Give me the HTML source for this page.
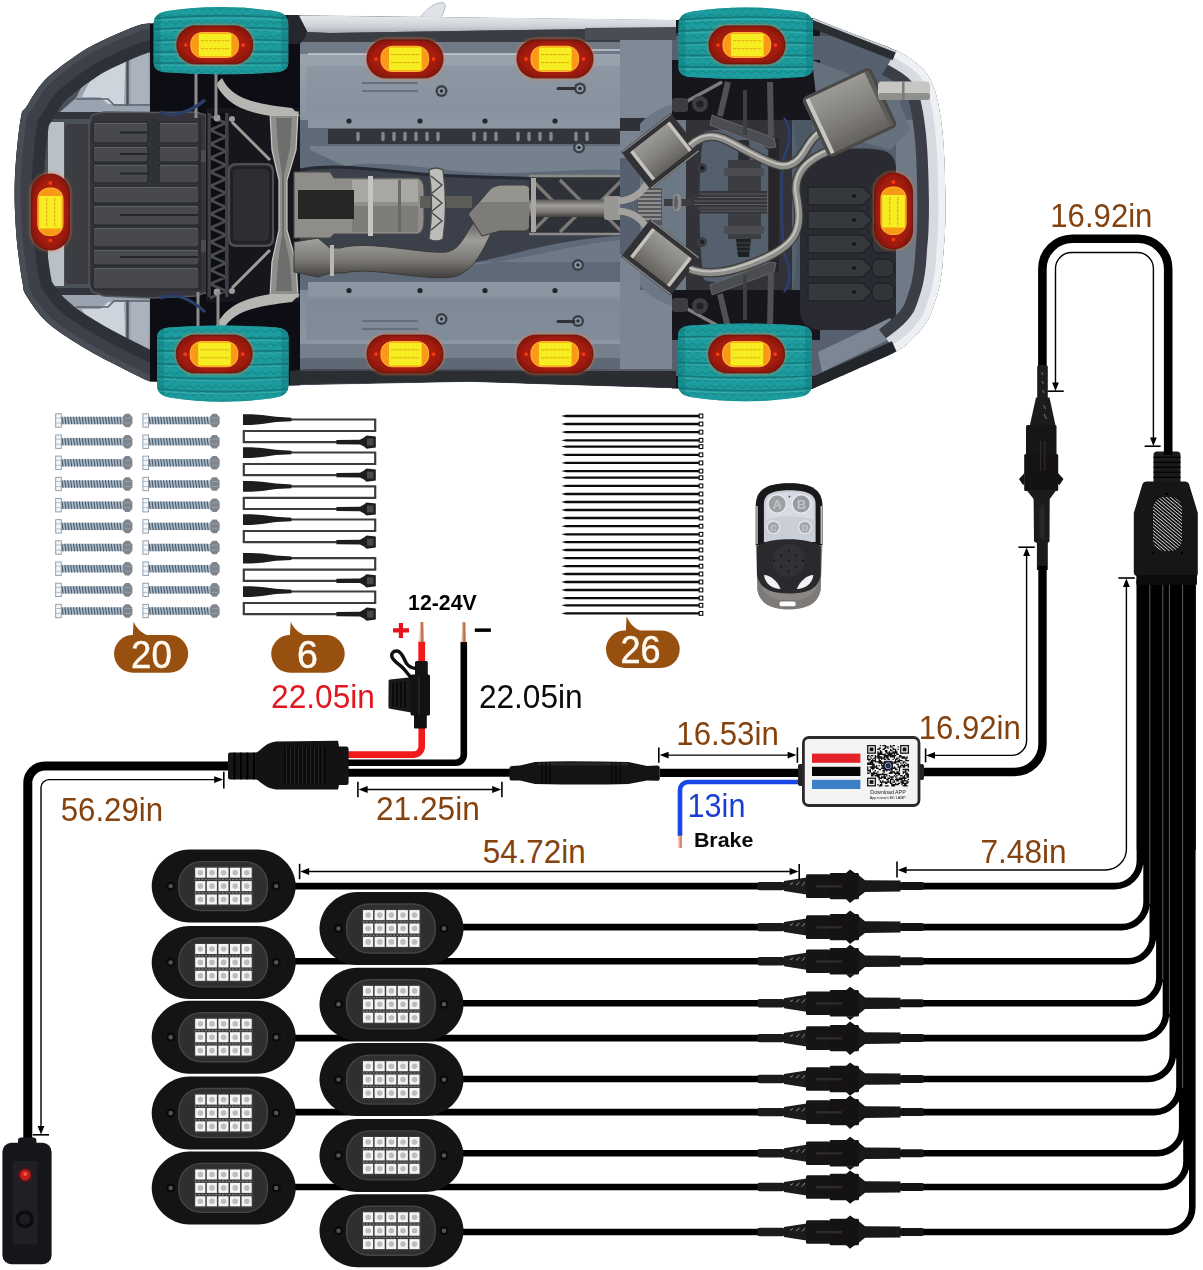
<!DOCTYPE html>
<html><head><meta charset="utf-8"><title>Wiring diagram</title>
<style>
html,body{margin:0;padding:0;background:#fff;}
body{width:1203px;height:1270px;overflow:hidden;}
svg{display:block;font-family:"Liberation Sans",sans-serif;}
</style></head><body>
<svg width="1203" height="1270" viewBox="0 0 1203 1270">
<defs>
<radialGradient id="lgR" cx="50%" cy="50%" r="60%">
 <stop offset="0" stop-color="#e0300f"/><stop offset="0.45" stop-color="#b9200c"/><stop offset="0.8" stop-color="#96190b"/><stop offset="1" stop-color="#82150a"/>
</radialGradient>
<filter id="glow" x="-30%" y="-30%" width="160%" height="160%"><feGaussianBlur stdDeviation="3"/></filter>
<filter id="b1" x="-10%" y="-10%" width="120%" height="120%"><feGaussianBlur stdDeviation="1"/></filter>
<filter id="b2" x="-20%" y="-20%" width="140%" height="140%"><feGaussianBlur stdDeviation="2"/></filter>
<filter id="b4" x="-20%" y="-20%" width="140%" height="140%"><feGaussianBlur stdDeviation="4"/></filter>
<filter id="b05" x="-10%" y="-10%" width="120%" height="120%"><feGaussianBlur stdDeviation="0.5"/></filter>
<filter id="carblur" x="0" y="0" width="1203" height="420" filterUnits="userSpaceOnUse"><feGaussianBlur stdDeviation="0.6"/></filter>

<g id="light">
 <rect x="-40" y="-21" width="80" height="42" rx="21" fill="#ff7a40" opacity="0.4" filter="url(#b1)"/>
 <rect x="-38" y="-19" width="76" height="38" rx="19" fill="url(#lgR)"/>
 <rect x="-38" y="-19" width="76" height="38" rx="19" fill="none" stroke="#5a1008" stroke-width="1.2" opacity="0.7"/>
 <circle cx="-29" cy="0.2" r="1.9" fill="#f03a14"/><circle cx="28.5" cy="0.2" r="1.9" fill="#f03a14"/>
 <rect x="-24.5" y="-13" width="48.6" height="26.2" rx="12" fill="#ffb43a"/>
 <rect x="-23.5" y="-12" width="46.6" height="24.2" rx="11" fill="#f99a12"/>
 <rect x="-16" y="-11.2" width="32.6" height="22.6" rx="1" fill="#f6ee20"/>
 <path d="M-14 -4.2H15M-14 3.8H15" stroke="#e2a212" stroke-width="0.9" stroke-dasharray="3.2 0.9" fill="none"/>
</g>

<g id="pod">
 <path d="M-34 -36.5 H34 C55 -36.5 72 -19 72 0 C72 19 55 36.5 34 36.5 H-34 C-55 36.5 -72 19 -72 0 C-72 -19 -55 -36.5 -34 -36.5Z" fill="#141414"/>
 <rect x="-45.6" y="-25.2" width="90" height="50.4" rx="23" fill="#454545"/>
 <rect x="-44.2" y="-23.8" width="87.2" height="47.6" rx="21.6" fill="#2f2f2f"/>
 <rect x="-29.5" y="-19.6" width="59" height="39.4" fill="#3c3c3c"/><path d="M-29 -6.6h58M-29 6.8h58" stroke="#7a7a7a" stroke-width="1.2" stroke-dasharray="2 1.4"/>
 <rect x="-28.5" y="-18.4" width="10.1" height="10" fill="#f4f4f4"/><circle cx="-23.3" cy="-13.4" r="2.8" fill="#bdbdbd"/><rect x="-16.9" y="-18.4" width="10.1" height="10" fill="#f4f4f4"/><circle cx="-11.7" cy="-13.4" r="2.8" fill="#bdbdbd"/><rect x="-5.3" y="-18.4" width="10.1" height="10" fill="#f4f4f4"/><circle cx="-0.1" cy="-13.4" r="2.8" fill="#bdbdbd"/><rect x="6.3" y="-18.4" width="10.1" height="10" fill="#f4f4f4"/><circle cx="11.5" cy="-13.4" r="2.8" fill="#bdbdbd"/><rect x="17.9" y="-18.4" width="10.1" height="10" fill="#f4f4f4"/><circle cx="23.1" cy="-13.4" r="2.8" fill="#bdbdbd"/><rect x="-28.5" y="-5.0" width="10.1" height="10" fill="#f4f4f4"/><circle cx="-23.3" cy="0.0" r="2.8" fill="#bdbdbd"/><rect x="-16.9" y="-5.0" width="10.1" height="10" fill="#f4f4f4"/><circle cx="-11.7" cy="0.0" r="2.8" fill="#bdbdbd"/><rect x="-5.3" y="-5.0" width="10.1" height="10" fill="#f4f4f4"/><circle cx="-0.1" cy="0.0" r="2.8" fill="#bdbdbd"/><rect x="6.3" y="-5.0" width="10.1" height="10" fill="#f4f4f4"/><circle cx="11.5" cy="0.0" r="2.8" fill="#bdbdbd"/><rect x="17.9" y="-5.0" width="10.1" height="10" fill="#f4f4f4"/><circle cx="23.1" cy="0.0" r="2.8" fill="#bdbdbd"/><rect x="-28.5" y="8.4" width="10.1" height="10" fill="#f4f4f4"/><circle cx="-23.3" cy="13.4" r="2.8" fill="#bdbdbd"/><rect x="-16.9" y="8.4" width="10.1" height="10" fill="#f4f4f4"/><circle cx="-11.7" cy="13.4" r="2.8" fill="#bdbdbd"/><rect x="-5.3" y="8.4" width="10.1" height="10" fill="#f4f4f4"/><circle cx="-0.1" cy="13.4" r="2.8" fill="#bdbdbd"/><rect x="6.3" y="8.4" width="10.1" height="10" fill="#f4f4f4"/><circle cx="11.5" cy="13.4" r="2.8" fill="#bdbdbd"/><rect x="17.9" y="8.4" width="10.1" height="10" fill="#f4f4f4"/><circle cx="23.1" cy="13.4" r="2.8" fill="#bdbdbd"/>
 <circle cx="-53" cy="0" r="4.6" fill="#0a0a0a"/><circle cx="-53" cy="0" r="2.2" fill="#555"/>
 <circle cx="52.5" cy="0" r="4.6" fill="#0a0a0a"/><circle cx="52.5" cy="0" r="2.2" fill="#555"/>
</g>

<g id="conn">
 <rect x="757.5" y="-4.2" width="27" height="8.4" rx="2" fill="#1c1a1a"/>
 <path d="M784 -5 L806.5 -8.5 L806.5 8.5 L784 5Z" fill="#1d1a1a"/>
 <path d="M790 -1.5l3 -2M796 -1l3.5 -3M802 -0.5l3 -3.5" stroke="#bbb" stroke-width="0.9" fill="none" opacity="0.8"/>
 <rect x="806" y="-11.8" width="24" height="23.6" rx="1.5" fill="#161414"/>
 <rect x="829.5" y="-13.2" width="29.5" height="26.4" rx="1.5" fill="#141212"/>
 <path d="M846 -13 L850 -16.5 L855 -13Z M846 13 L850 16.8 L855 13Z" fill="#141212"/>
 <rect x="816" y="-1" width="26" height="2.4" fill="#2d2a2a"/>
 <path d="M858.5 -11 L865 -5.8 L900.5 -5.5 L900.5 5.5 L865 5.8 L858.5 11Z" fill="#1a1818"/>
 <rect x="900" y="-4" width="24" height="8" rx="2" fill="#141212"/>
</g>

<g id="screw">
 <rect x="5.5" y="-3.6" width="62" height="7.2" fill="#a9bccb"/>
 <path d="M6.5 -3.8l1.2 7.6" stroke="#4d5a68" stroke-width="1.1"/><path d="M9.4 -3.8l1.2 7.6" stroke="#4d5a68" stroke-width="1.1"/><path d="M12.3 -3.8l1.2 7.6" stroke="#4d5a68" stroke-width="1.1"/><path d="M15.2 -3.8l1.2 7.6" stroke="#4d5a68" stroke-width="1.1"/><path d="M18.1 -3.8l1.2 7.6" stroke="#4d5a68" stroke-width="1.1"/><path d="M21.0 -3.8l1.2 7.6" stroke="#4d5a68" stroke-width="1.1"/><path d="M23.9 -3.8l1.2 7.6" stroke="#4d5a68" stroke-width="1.1"/><path d="M26.8 -3.8l1.2 7.6" stroke="#4d5a68" stroke-width="1.1"/><path d="M29.7 -3.8l1.2 7.6" stroke="#4d5a68" stroke-width="1.1"/><path d="M32.6 -3.8l1.2 7.6" stroke="#4d5a68" stroke-width="1.1"/><path d="M35.5 -3.8l1.2 7.6" stroke="#4d5a68" stroke-width="1.1"/><path d="M38.4 -3.8l1.2 7.6" stroke="#4d5a68" stroke-width="1.1"/><path d="M41.3 -3.8l1.2 7.6" stroke="#4d5a68" stroke-width="1.1"/><path d="M44.2 -3.8l1.2 7.6" stroke="#4d5a68" stroke-width="1.1"/><path d="M47.1 -3.8l1.2 7.6" stroke="#4d5a68" stroke-width="1.1"/><path d="M50.0 -3.8l1.2 7.6" stroke="#4d5a68" stroke-width="1.1"/><path d="M52.9 -3.8l1.2 7.6" stroke="#4d5a68" stroke-width="1.1"/><path d="M55.8 -3.8l1.2 7.6" stroke="#4d5a68" stroke-width="1.1"/><path d="M58.7 -3.8l1.2 7.6" stroke="#4d5a68" stroke-width="1.1"/><path d="M61.6 -3.8l1.2 7.6" stroke="#4d5a68" stroke-width="1.1"/><path d="M64.5 -3.8l1.2 7.6" stroke="#4d5a68" stroke-width="1.1"/>
 <rect x="0.3" y="-6.7" width="5.6" height="13.4" fill="#f4f7fa" stroke="#8a97a5" stroke-width="0.9"/>
 <path d="M0.3 -2.5h5.6M0.3 2.5h5.6" stroke="#9aa6b2" stroke-width="0.7"/>
 <path d="M67.5 -4 L70 -6.8 L74 -6.8 L77 -3.2 L77 3.2 L74 6.8 L70 6.8 L67.5 4Z" fill="#7f858c"/>
 <path d="M69 -2.5h7M69 2.5h7" stroke="#9ea5ad" stroke-width="0.8"/>
</g>
</defs>
<rect width="1203" height="1270" fill="#fff"/>
<g id="car" filter="url(#carblur)">
<path d="M418 20 C424 12 432 3 442 2.5 C447 3 446 8 440 20Z" fill="#dfe2e6" stroke="#aab0b8" stroke-width="0.8"/>
<defs><clipPath id="carclip"><path d="M150 23.5 C148.0 23.8 145.0 23.1 138.0 25.5 C131.0 27.9 117.7 33.4 108.0 38.0 C98.3 42.6 90.5 46.0 80.0 53.0 C69.5 60.0 53.8 71.2 45.0 80.0 C36.2 88.8 31.0 99.8 27.0 106.0 C23.0 112.2 22.8 108.0 21.0 117.0 C19.2 126.0 17.1 147.0 16.0 160.0 C14.9 173.0 14.6 183.3 14.6 195.0 C14.6 206.7 15.3 219.8 16.0 230.0 C16.7 240.2 17.5 247.2 18.6 256.0 C19.7 264.8 21.3 276.3 22.6 283.0 C23.9 289.7 22.4 289.3 26.6 296.0 C30.8 302.7 37.8 314.0 48.0 323.0 C58.2 332.0 73.0 341.2 88.0 350.0 C103.0 358.8 127.7 370.8 138.0 376.0 C148.3 381.2 148.0 380.6 150.0 381.5 L290 385.5 L470 382 L676 388.5 L812 389 C819.2 385.8 840.9 376.3 855.0 370.0 C869.1 363.7 886.4 356.9 896.4 351.3 C906.4 345.7 909.4 341.6 914.7 336.4 C920.0 331.1 924.7 325.4 928.0 319.8 C931.3 314.2 932.8 308.3 934.6 303.0 C936.4 297.7 937.8 293.5 939.0 288.0 C940.2 282.5 941.3 276.0 942.0 270.0 C942.7 264.0 942.9 258.7 943.4 252.0 C943.9 245.3 944.7 238.8 945.0 230.0 C945.3 221.2 945.6 212.9 945.4 199.5 C945.2 186.1 944.6 163.4 943.8 149.6 C943.0 135.8 941.9 126.4 940.4 116.4 C938.9 106.4 937.0 97.0 934.6 89.8 C932.2 82.6 929.9 78.0 926.3 73.2 C922.7 68.4 918.0 64.5 913.0 60.7 C908.0 57.0 906.1 55.1 896.4 50.7 C886.7 46.3 868.9 40.0 855.0 34.5 C841.1 29.1 820.0 20.8 813.0 18.0 L680 20 L290 15 Z"/></clipPath><linearGradient id="floorT" x1="0" y1="0" x2="0" y2="1"><stop offset="0" stop-color="#9fa8b2"/><stop offset="1" stop-color="#8893a0"/></linearGradient><linearGradient id="floorB" x1="0" y1="0" x2="0" y2="1"><stop offset="0" stop-color="#808c9a"/><stop offset="1" stop-color="#929ca8"/></linearGradient><linearGradient id="metal" x1="0" y1="0" x2="0" y2="1"><stop offset="0" stop-color="#5a5856"/><stop offset="0.35" stop-color="#a09e9a"/><stop offset="0.7" stop-color="#7a7874"/><stop offset="1" stop-color="#403e3c"/></linearGradient><linearGradient id="metalH" x1="0" y1="0" x2="1" y2="0"><stop offset="0" stop-color="#6a6866"/><stop offset="0.35" stop-color="#b4b2ae"/><stop offset="0.7" stop-color="#8a8884"/><stop offset="1" stop-color="#4c4a48"/></linearGradient><linearGradient id="muff" x1="0" y1="0" x2="0" y2="1"><stop offset="0" stop-color="#9c9a96"/><stop offset="0.5" stop-color="#84827e"/><stop offset="1" stop-color="#64625e"/></linearGradient><linearGradient id="sill" x1="0" y1="0" x2="0" y2="1"><stop offset="0" stop-color="#e6e8ec"/><stop offset="0.6" stop-color="#cfd3d9"/><stop offset="1" stop-color="#a9aeb6"/></linearGradient><filter id="noise" x="0" y="0" width="100%" height="100%"><feTurbulence type="fractalNoise" baseFrequency="0.9" numOctaves="2" seed="3"/><feColorMatrix type="matrix" values="0 0 0 0 0.5  0 0 0 0 0.5  0 0 0 0 0.5  0 0 0 -1.6 1.1"/></filter><pattern id="tread" width="9" height="7" patternUnits="userSpaceOnUse"><rect width="9" height="7" fill="#1f9c9e"/><path d="M0 0l4.5 3.5l4.5 -3.5" stroke="#168587" stroke-width="1.1" fill="none"/></pattern></defs>
<g clip-path="url(#carclip)">
<path d="M150 23.5 C148.0 23.8 145.0 23.1 138.0 25.5 C131.0 27.9 117.7 33.4 108.0 38.0 C98.3 42.6 90.5 46.0 80.0 53.0 C69.5 60.0 53.8 71.2 45.0 80.0 C36.2 88.8 31.0 99.8 27.0 106.0 C23.0 112.2 22.8 108.0 21.0 117.0 C19.2 126.0 17.1 147.0 16.0 160.0 C14.9 173.0 14.6 183.3 14.6 195.0 C14.6 206.7 15.3 219.8 16.0 230.0 C16.7 240.2 17.5 247.2 18.6 256.0 C19.7 264.8 21.3 276.3 22.6 283.0 C23.9 289.7 22.4 289.3 26.6 296.0 C30.8 302.7 37.8 314.0 48.0 323.0 C58.2 332.0 73.0 341.2 88.0 350.0 C103.0 358.8 127.7 370.8 138.0 376.0 C148.3 381.2 148.0 380.6 150.0 381.5 L290 385.5 L470 382 L676 388.5 L812 389 C819.2 385.8 840.9 376.3 855.0 370.0 C869.1 363.7 886.4 356.9 896.4 351.3 C906.4 345.7 909.4 341.6 914.7 336.4 C920.0 331.1 924.7 325.4 928.0 319.8 C931.3 314.2 932.8 308.3 934.6 303.0 C936.4 297.7 937.8 293.5 939.0 288.0 C940.2 282.5 941.3 276.0 942.0 270.0 C942.7 264.0 942.9 258.7 943.4 252.0 C943.9 245.3 944.7 238.8 945.0 230.0 C945.3 221.2 945.6 212.9 945.4 199.5 C945.2 186.1 944.6 163.4 943.8 149.6 C943.0 135.8 941.9 126.4 940.4 116.4 C938.9 106.4 937.0 97.0 934.6 89.8 C932.2 82.6 929.9 78.0 926.3 73.2 C922.7 68.4 918.0 64.5 913.0 60.7 C908.0 57.0 906.1 55.1 896.4 50.7 C886.7 46.3 868.9 40.0 855.0 34.5 C841.1 29.1 820.0 20.8 813.0 18.0 L680 20 L290 15 Z" fill="#4a515b"/>
<path d="M150 40 L128 41 C106 52 88 72 76 98 L52 119 L150 114Z" fill="#9aa4b0"/>
<path d="M150 366 L128 365 C106 354 88 334 76 308 L52 287 L150 292Z" fill="#9aa4b0"/>
<path d="M126 43 C108 54 92 74 82 97 L100 97 L108 104 L124 104Z" fill="#cdd4dc"/>
<path d="M126 363 C108 352 92 332 82 309 L100 309 L108 302 L124 302Z" fill="#cdd4dc"/>
<path d="M131 42 L148 42 L149 104 L131 104Z" fill="#a9b2bd"/><path d="M131 364 L148 364 L149 302 L131 302Z" fill="#a9b2bd"/>
<path d="M127.5 42 V106M127.5 364 V300" stroke="#4a5059" stroke-width="2.4" fill="none"/>
<path d="M76 99 H108 L114 105 H150" stroke="#5a626c" stroke-width="1.6" fill="none"/><path d="M76 307 H108 L114 301 H150" stroke="#5a626c" stroke-width="1.6" fill="none"/>
<rect x="40" y="112" width="52" height="182" fill="#4c5159"/>
<rect x="46" y="112" width="106" height="7" fill="#33363c"/><rect x="46" y="288" width="106" height="7" fill="#33363c"/>
<rect x="48" y="122" width="16" height="164" fill="#b9c0c8"/>
<rect x="65" y="124" width="24" height="160" rx="4" fill="#3a3d43"/>
<defs><clipPath id="frontclip"><rect x="0" y="0" width="152" height="410"/></clipPath><clipPath id="rearclip"><rect x="812" y="0" width="150" height="410"/></clipPath></defs>
<path d="M150 23.5 C148.0 23.8 145.0 23.1 138.0 25.5 C131.0 27.9 117.7 33.4 108.0 38.0 C98.3 42.6 90.5 46.0 80.0 53.0 C69.5 60.0 53.8 71.2 45.0 80.0 C36.2 88.8 31.0 99.8 27.0 106.0 C23.0 112.2 22.8 108.0 21.0 117.0 C19.2 126.0 17.1 147.0 16.0 160.0 C14.9 173.0 14.6 183.3 14.6 195.0 C14.6 206.7 15.3 219.8 16.0 230.0 C16.7 240.2 17.5 247.2 18.6 256.0 C19.7 264.8 21.3 276.3 22.6 283.0 C23.9 289.7 22.4 289.3 26.6 296.0 C30.8 302.7 37.8 314.0 48.0 323.0 C58.2 332.0 73.0 341.2 88.0 350.0 C103.0 358.8 127.7 370.8 138.0 376.0 C148.3 381.2 148.0 380.6 150.0 381.5 " fill="none" stroke="#2f3238" stroke-width="58" clip-path="url(#frontclip)"/>
<path d="M150 23.5 C148.0 23.8 145.0 23.1 138.0 25.5 C131.0 27.9 117.7 33.4 108.0 38.0 C98.3 42.6 90.5 46.0 80.0 53.0 C69.5 60.0 53.8 71.2 45.0 80.0 C36.2 88.8 31.0 99.8 27.0 106.0 C23.0 112.2 22.8 108.0 21.0 117.0 C19.2 126.0 17.1 147.0 16.0 160.0 C14.9 173.0 14.6 183.3 14.6 195.0 C14.6 206.7 15.3 219.8 16.0 230.0 C16.7 240.2 17.5 247.2 18.6 256.0 C19.7 264.8 21.3 276.3 22.6 283.0 C23.9 289.7 22.4 289.3 26.6 296.0 C30.8 302.7 37.8 314.0 48.0 323.0 C58.2 332.0 73.0 341.2 88.0 350.0 C103.0 358.8 127.7 370.8 138.0 376.0 C148.3 381.2 148.0 380.6 150.0 381.5 " fill="none" stroke="#3c4048" stroke-width="34" clip-path="url(#frontclip)"/>
<path d="M150 23.5 C148.0 23.8 145.0 23.1 138.0 25.5 C131.0 27.9 117.7 33.4 108.0 38.0 C98.3 42.6 90.5 46.0 80.0 53.0 C69.5 60.0 53.8 71.2 45.0 80.0 C36.2 88.8 31.0 99.8 27.0 106.0 C23.0 112.2 22.8 108.0 21.0 117.0 C19.2 126.0 17.1 147.0 16.0 160.0 C14.9 173.0 14.6 183.3 14.6 195.0 C14.6 206.7 15.3 219.8 16.0 230.0 C16.7 240.2 17.5 247.2 18.6 256.0 C19.7 264.8 21.3 276.3 22.6 283.0 C23.9 289.7 22.4 289.3 26.6 296.0 C30.8 302.7 37.8 314.0 48.0 323.0 C58.2 332.0 73.0 341.2 88.0 350.0 C103.0 358.8 127.7 370.8 138.0 376.0 C148.3 381.2 148.0 380.6 150.0 381.5 " fill="none" stroke="#4d525b" stroke-width="12" clip-path="url(#frontclip)" opacity="0.7"/>
<path d="M150 23.5 C148.0 23.8 145.0 23.1 138.0 25.5 C131.0 27.9 117.7 33.4 108.0 38.0 C98.3 42.6 90.5 46.0 80.0 53.0 C69.5 60.0 53.8 71.2 45.0 80.0 C36.2 88.8 31.0 99.8 27.0 106.0 C23.0 112.2 22.8 108.0 21.0 117.0 C19.2 126.0 17.1 147.0 16.0 160.0 C14.9 173.0 14.6 183.3 14.6 195.0 C14.6 206.7 15.3 219.8 16.0 230.0 C16.7 240.2 17.5 247.2 18.6 256.0 C19.7 264.8 21.3 276.3 22.6 283.0 C23.9 289.7 22.4 289.3 26.6 296.0 C30.8 302.7 37.8 314.0 48.0 323.0 C58.2 332.0 73.0 341.2 88.0 350.0 C103.0 358.8 127.7 370.8 138.0 376.0 C148.3 381.2 148.0 380.6 150.0 381.5 " fill="none" stroke="#23262b" stroke-width="2" clip-path="url(#frontclip)" transform="translate(16,0)" opacity="0"/>
<rect x="150" y="0" width="150" height="116" fill="#101113"/>
<rect x="150" y="294" width="150" height="110" fill="#101113"/>
<rect x="672" y="0" width="148" height="125" fill="#121316"/>
<rect x="672" y="285" width="148" height="120" fill="#121316"/>
<path d="M92 115 L104 112 L150 112.5 L196 112 L206 115 L207.5 292 L196 296 L150 298 L104 296 L92 292 L89 284 L89 124Z" fill="#34363a"/>
<path d="M92 115 L104 112 L150 112.5 L196 112 L206 115 L207.5 292 L196 296 L150 298 L104 296 L92 292 L89 284 L89 124Z" fill="none" stroke="#54575c" stroke-width="1.4"/>
<rect x="93" y="122" width="55" height="21" rx="2.5" fill="#46484d" stroke="#222427" stroke-width="1.1"/>
<rect x="159" y="122" width="40" height="21" rx="2.5" fill="#46484d" stroke="#222427" stroke-width="1.1"/>
<path d="M120 132.5 H148" stroke="#26282b" stroke-width="2"/>
<path d="M94 123.5 H147M160 123.5 H198" stroke="#5d6065" stroke-width="1"/>
<rect x="93" y="146" width="55" height="16" rx="2.5" fill="#46484d" stroke="#222427" stroke-width="1.1"/>
<rect x="159" y="146" width="40" height="16" rx="2.5" fill="#46484d" stroke="#222427" stroke-width="1.1"/>
<path d="M120 154.0 H148" stroke="#26282b" stroke-width="2"/>
<path d="M94 147.5 H147M160 147.5 H198" stroke="#5d6065" stroke-width="1"/>
<rect x="93" y="164" width="55" height="19" rx="2.5" fill="#46484d" stroke="#222427" stroke-width="1.1"/>
<rect x="159" y="164" width="40" height="19" rx="2.5" fill="#46484d" stroke="#222427" stroke-width="1.1"/>
<path d="M120 173.5 H148" stroke="#26282b" stroke-width="2"/>
<path d="M94 165.5 H147M160 165.5 H198" stroke="#5d6065" stroke-width="1"/>
<rect x="93" y="186" width="106" height="17" rx="2.5" fill="#46484d" stroke="#222427" stroke-width="1.1"/>
<path d="M94 187.5 H198" stroke="#5d6065" stroke-width="1"/>
<rect x="93" y="205" width="106" height="20" rx="2.5" fill="#46484d" stroke="#222427" stroke-width="1.1"/>
<path d="M120 215.0 H198" stroke="#26282b" stroke-width="2"/>
<path d="M94 206.5 H198" stroke="#5d6065" stroke-width="1"/>
<rect x="93" y="227" width="106" height="20" rx="2.5" fill="#46484d" stroke="#222427" stroke-width="1.1"/>
<path d="M94 228.5 H198" stroke="#5d6065" stroke-width="1"/>
<rect x="93" y="249" width="106" height="16" rx="2.5" fill="#46484d" stroke="#222427" stroke-width="1.1"/>
<path d="M120 257.0 H198" stroke="#26282b" stroke-width="2"/>
<path d="M94 250.5 H198" stroke="#5d6065" stroke-width="1"/>
<rect x="93" y="267" width="106" height="22" rx="2.5" fill="#46484d" stroke="#222427" stroke-width="1.1"/>
<path d="M94 268.5 H198" stroke="#5d6065" stroke-width="1"/>
<rect x="149.5" y="118" width="8" height="68" fill="#2f3135"/>
<path d="M200 118 V290" stroke="#2a2c2f" stroke-width="2"/>
<rect x="201" y="150" width="6" height="12" fill="#4a4c51"/><rect x="201" y="240" width="6" height="12" fill="#4a4c51"/>
<rect x="206" y="108" width="96" height="194" fill="#17181a"/>
<rect x="207.5" y="113" width="21" height="184" fill="#0f1012"/>
<path d="M210 116L226 123L210 130M210 130L226 137L210 144M210 144L226 151L210 158M210 158L226 165L210 172M210 172L226 179L210 186M210 186L226 193L210 200M210 200L226 207L210 214M210 214L226 221L210 228M210 228L226 235L210 242M210 242L226 249L210 256M210 256L226 263L210 270M210 270L226 277L210 284M210 284L226 291L210 298" stroke="#4a4c51" stroke-width="2.6" fill="none"/>
<rect x="207.5" y="113" width="3.4" height="184" fill="#3d3f44"/><rect x="225" y="113" width="3.6" height="184" fill="#3d3f44"/>
<circle cx="217" cy="118" r="3.4" fill="#9a9a98"/><circle cx="217" cy="292" r="3.4" fill="#9a9a98"/><circle cx="232" cy="119" r="3" fill="#9a9a98"/><circle cx="232" cy="291" r="3" fill="#9a9a98"/>
<rect x="228" y="163" width="46" height="84" rx="7" fill="#4b4d52"/><rect x="230" y="165.5" width="42" height="79" rx="6" fill="#232325"/><rect x="233" y="169" width="36" height="72" rx="5" fill="#2f2f32"/>
<path d="M270 112 H298 L296 150 L287 180 L287 230 L296 262 L298 297 H270 L272 262 L279 230 L279 180 L272 150Z" fill="#8e8e8c" stroke="#c9c9c6" stroke-width="1.2"/>
<path d="M276 118 H292 L290 148 L284 175 L284 235 L290 262 L292 291 H276 L278 262 L282 235 L282 175 L278 148Z" fill="#6e6e6c"/>
<path d="M232 122 L270 160M232 288 L270 250" stroke="#9d9d9a" stroke-width="3" fill="none"/>
<path d="M222 78 C232 100 258 104 292 108 L300 116 L272 116 C244 112 226 104 216 84Z" fill="#b5b5b2"/>
<path d="M222 332 C232 310 258 306 292 302 L300 294 L272 294 C244 298 226 306 216 326Z" fill="#b5b5b2"/>
<path d="M196 72 V118M216 72 V118" stroke="#8c8c8a" stroke-width="3" fill="none"/>
<path d="M198 292 V336M218 292 V336" stroke="#8c8c8a" stroke-width="3" fill="none"/>
<path d="M160 112 C175 118 190 112 205 100" stroke="#2c3f6a" stroke-width="3" fill="none"/>
<path d="M160 298 C175 292 190 298 205 312" stroke="#2c3f6a" stroke-width="3" fill="none"/>
<rect x="300" y="36" width="372" height="84" fill="url(#floorT)"/>
<rect x="300" y="290" width="372" height="84" fill="url(#floorB)"/>
<rect x="300" y="120" width="320" height="170" fill="#5f6a78"/>
<rect x="290" y="33" width="390" height="9" fill="#3a3e45"/>
<rect x="300" y="42" width="372" height="12" fill="#707a86"/>
<path d="M308 54 H520 L535 50 H672" stroke="#c4cad2" stroke-width="1.6" fill="none"/>
<rect x="306" y="66" width="366" height="46" fill="#87919d" opacity="0.6"/>
<rect x="308" y="114" width="364" height="14" fill="#8b95a1"/>
<rect x="328" y="129" width="292" height="15" fill="#33363b"/>
<path d="M358 133.5v6M383 133.5v6M394 133.5v6M405 133.5v6M416 133.5v6M427 133.5v6M438 133.5v6M474 133.5v6M485 133.5v6M496 133.5v6M518 133.5v6M529 133.5v6M540 133.5v6M551 133.5v6M576 133.5v6M587 133.5v6" stroke="#80868e" stroke-width="3.4" stroke-linecap="round"/>
<path d="M310 146 H620 V170 C560 168 520 176 470 172 C420 168 380 160 345 166 L310 150Z" fill="#76818e"/>
<rect x="308" y="282" width="364" height="15" fill="#8c96a2"/>
<path d="M310 262 H620 V240 C560 246 520 262 460 266 C400 270 350 266 310 270Z" fill="#707b88" opacity="0.9"/>
<rect x="306" y="300" width="366" height="40" fill="#7d8895" opacity="0.7"/>
<path d="M308 354 H520 L535 358 H672" stroke="#b9c0c9" stroke-width="1.6" fill="none"/>
<rect x="300" y="344" width="372" height="14" fill="#76808c"/>
<rect x="300" y="358" width="372" height="12" fill="#5f6874"/>
<circle cx="349" cy="121" r="2.6" fill="#23262b"/>
<circle cx="420" cy="121" r="2.6" fill="#23262b"/>
<circle cx="485" cy="121" r="2.6" fill="#23262b"/>
<circle cx="555" cy="121" r="2.6" fill="#23262b"/>
<circle cx="349" cy="290.5" r="2.6" fill="#23262b"/>
<circle cx="420" cy="290.5" r="2.6" fill="#23262b"/>
<circle cx="485" cy="290.5" r="2.6" fill="#23262b"/>
<circle cx="555" cy="290.5" r="2.6" fill="#23262b"/>
<circle cx="625" cy="121" r="2.6" fill="#23262b"/>
<circle cx="625" cy="290.5" r="2.6" fill="#23262b"/>
<circle cx="441.5" cy="91" r="6" fill="#3a3f47"/><circle cx="441.5" cy="91" r="3.6" fill="#8f99a5"/><circle cx="441.5" cy="91" r="1.8" fill="#2c3036"/>
<circle cx="580" cy="88.5" r="6" fill="#3a3f47"/><circle cx="580" cy="88.5" r="3.6" fill="#8f99a5"/><circle cx="580" cy="88.5" r="1.8" fill="#2c3036"/>
<circle cx="579" cy="147.5" r="6" fill="#3a3f47"/><circle cx="579" cy="147.5" r="3.6" fill="#8f99a5"/><circle cx="579" cy="147.5" r="1.8" fill="#2c3036"/>
<circle cx="441.5" cy="319" r="6" fill="#3a3f47"/><circle cx="441.5" cy="319" r="3.6" fill="#8f99a5"/><circle cx="441.5" cy="319" r="1.8" fill="#2c3036"/>
<circle cx="578" cy="321" r="6" fill="#3a3f47"/><circle cx="578" cy="321" r="3.6" fill="#8f99a5"/><circle cx="578" cy="321" r="1.8" fill="#2c3036"/>
<circle cx="578" cy="265" r="6" fill="#3a3f47"/><circle cx="578" cy="265" r="3.6" fill="#8f99a5"/><circle cx="578" cy="265" r="1.8" fill="#2c3036"/>
<path d="M558 88.5h16M558 321.5h16" stroke="#2f3339" stroke-width="3" stroke-linecap="round"/>
<path d="M362 83h56M362 91h56" stroke="#5d6773" stroke-width="1.6"/><path d="M362 321h56M362 329h56" stroke="#5d6773" stroke-width="1.6"/>
<path d="M300 170 C330 164 360 168 420 174 C470 178 520 178 620 180 V236 C540 240 500 262 440 268 C380 272 330 270 300 270Z" fill="#3a414b"/>
<path d="M300 170 C330 164 360 168 420 174 C470 178 520 178 620 180" stroke="#252a31" stroke-width="3" fill="none"/>
<path d="M294 172 H330 L334 178 H418 Q424 180 424 190 V220 Q424 232 418 234 H334 L330 238 H294Z" fill="#8e8d8a" stroke="#4a4947" stroke-width="1"/>
<rect x="352" y="180" width="66" height="22" fill="#a8a7a4"/><rect x="352" y="206" width="66" height="26" fill="#7e7d7a"/>
<rect x="298" y="190" width="56" height="29" fill="#252527"/>
<rect x="368" y="176" width="5" height="60" fill="#c6c5c2"/><rect x="398" y="180" width="3" height="52" fill="#6a6967"/>
<rect x="420" y="196" width="52" height="12" fill="#5c5b59"/>
<path d="M429 170 Q436 166 443 170 Q448 205 443 239 Q436 243 429 239 Q434 205 429 170Z" fill="#bdbdba" stroke="#4b4b49" stroke-width="1.4"/>
<path d="M431 176l11 9l-11 9l11 9l-11 9l11 9l-11 9" stroke="#4a4a48" stroke-width="1.4" fill="none"/>
<path d="M294 242 L318 238 L330 248 L340 248 C370 240 420 254 446 252 C462 250 466 230 476 220 L492 232 C484 246 476 272 452 277 C420 281 372 266 344 273 L330 273 L318 277 L294 272Z" fill="url(#metal)" stroke="#3a3937" stroke-width="1"/>
<rect x="330" y="245" width="4" height="31" fill="#b8b7b4"/>
<path d="M468 214 L490 190 Q494 185.5 504 185.5 H524 Q530 185.5 530 192 V224 Q530 231 524 231 H500 L482 236Z" fill="#7e7c78" stroke="#3a3937" stroke-width="1"/>
<path d="M490 190 Q494 185.5 504 185.5 H524 Q530 185.5 530 192 V202 H480Z" fill="#96948f"/>
<rect x="529" y="176" width="95" height="58" fill="#2f3237"/>
<path d="M529 176 H624 M529 234 H624" stroke="#8c8b88" stroke-width="2.4"/>
<path d="M532 180l26 26l-26 26M560 180l26 26l-26 26M622 180l-26 26l26 26" stroke="#7a7976" stroke-width="3.2" fill="none"/>
<rect x="529" y="199.5" width="95" height="17.5" fill="url(#metal)"/>
<rect x="531" y="178" width="5" height="54" fill="#a8a7a4"/><rect x="604" y="196" width="18" height="24" rx="3" fill="#979692"/>
<rect x="620" y="36" width="330" height="340" fill="#56616e"/>
<path d="M620 36 H672 V120 H640 V150 H620Z" fill="#808a96"/>
<path d="M620 374 H672 V290 H640 V262 H620Z" fill="#7c8692"/>
<rect x="620" y="118" width="52" height="13" fill="#2f3237"/>
<rect x="620" y="132" width="44" height="26" fill="#7a8490"/><rect x="620" y="255" width="44" height="26" fill="#7a8490"/>
<path d="M640 124 C660 100 700 96 720 110 L720 300 C700 314 660 310 640 286Z" fill="#6d7886"/>
<rect x="686" y="80" width="106" height="250" fill="#303338"/>
<path d="M704 132 C724 126 752 132 768 150 L768 262 C752 280 724 286 704 280 C698 250 698 160 704 132Z" fill="#55606e"/>
<rect x="769" y="138" width="10" height="134" fill="#26282c"/>
<path d="M792 120 C800 140 800 270 792 292 L812 292 L812 120Z" fill="#4d5865"/>
<rect x="672" y="60" width="148" height="60" fill="#15161a"/><rect x="672" y="290" width="148" height="50" fill="#15161a"/>
<path d="M800 170 C810 150 850 146 880 150 Q896 152 896 170 V312 Q896 330 880 330 H822 Q800 330 800 310Z" fill="#2a2c30"/>
<path d="M808 187 H862 L872 196 L862 205 H808Z" fill="#35373c" stroke="#1d1e21" stroke-width="1"/>
<circle cx="854" cy="196" r="2" fill="#15161a"/>
<rect x="872" y="187" width="22" height="18" rx="7" fill="#323439" stroke="#1c1d20" stroke-width="1"/>
<path d="M808 211 H862 L872 220 L862 229 H808Z" fill="#35373c" stroke="#1d1e21" stroke-width="1"/>
<circle cx="854" cy="220" r="2" fill="#15161a"/>
<rect x="872" y="211" width="22" height="18" rx="7" fill="#323439" stroke="#1c1d20" stroke-width="1"/>
<path d="M808 235 H862 L872 244 L862 253 H808Z" fill="#35373c" stroke="#1d1e21" stroke-width="1"/>
<circle cx="854" cy="244" r="2" fill="#15161a"/>
<rect x="872" y="235" width="22" height="18" rx="7" fill="#323439" stroke="#1c1d20" stroke-width="1"/>
<path d="M808 259 H862 L872 268 L862 277 H808Z" fill="#35373c" stroke="#1d1e21" stroke-width="1"/>
<circle cx="854" cy="268" r="2" fill="#15161a"/>
<rect x="872" y="259" width="22" height="18" rx="7" fill="#323439" stroke="#1c1d20" stroke-width="1"/>
<path d="M808 283 H862 L872 292 L862 301 H808Z" fill="#35373c" stroke="#1d1e21" stroke-width="1"/>
<circle cx="854" cy="292" r="2" fill="#15161a"/>
<rect x="872" y="283" width="22" height="18" rx="7" fill="#323439" stroke="#1c1d20" stroke-width="1"/>
<path d="M896 120 H930 V300 C925 320 910 336 896 344Z" fill="#6f7986"/>
<path d="M818 352 L890 318 L900 334 L822 372Z" fill="#7d8794"/>
<path d="M812 60 L896 92 L910 130 L890 150 L820 130Z" fill="#66717e"/>
<rect x="728" y="160" width="33" height="32" fill="#3a3c41"/><rect x="724" y="168" width="40" height="8" fill="#4b4d52"/>
<rect x="728" y="212" width="33" height="27" fill="#3a3c41"/><rect x="724" y="226" width="40" height="8" fill="#4b4d52"/>
<path d="M736 239 h15 l-2 18 h-11Z" fill="#1f2023"/><path d="M736 243h15M737 247h13M737 251h13" stroke="#45474c" stroke-width="1"/>
<path d="M738 160 h12 l-1 -20 h-10Z" fill="#2a2c30"/>
<path d="M690 196 L700 191 H767 V213.5 H700 L690 208Z" fill="#34363b"/>
<path d="M700 194h67M698 197.5h69M694 201h73M694 204.5h73M698 208h69M700 211h67" stroke="#5b5d63" stroke-width="1.1"/>
<rect x="664" y="199" width="28" height="7" fill="#3a3c40"/><ellipse cx="677" cy="202.5" rx="4.5" ry="9" fill="#8d8d8b"/><ellipse cx="676" cy="202.5" rx="2" ry="7" fill="#5f5f5d"/>
<circle cx="702" cy="168" r="5" fill="#3b3d42"/><circle cx="702" cy="168" r="2.2" fill="#1f2023"/><circle cx="702" cy="242" r="5" fill="#3b3d42"/><circle cx="702" cy="242" r="2.2" fill="#1f2023"/>
<rect x="637" y="188" width="25" height="37" fill="#55575b"/>
<path d="M638 191h23M638 195h23M638 199h23M638 203h23M638 207h23M638 211h23M638 215h23M638 219h23" stroke="#a2a19e" stroke-width="1.3"/>
<path d="M618 201 C640 200 645 186 656 172" stroke="#a3a29e" stroke-width="7" fill="none"/>
<path d="M618 211 C640 212 645 226 656 240" stroke="#a3a29e" stroke-width="7" fill="none"/>
<g transform="translate(661,151) rotate(-38)"><rect x="-32" y="-24" width="63" height="48" fill="#303236"/><path d="M-31 -23h61M-31 23h61" stroke="#8b8b89" stroke-width="1.2"/><rect x="-25" y="-18" width="50" height="36" rx="3" fill="url(#muff)"/><rect x="-25" y="-18" width="3.5" height="36" fill="#c4c2be"/><rect x="21.5" y="-18" width="3.5" height="36" fill="#c4c2be"/></g>
<g transform="translate(661,257.5) rotate(38)"><rect x="-32" y="-24" width="63" height="48" fill="#303236"/><path d="M-31 -23h61M-31 23h61" stroke="#8b8b89" stroke-width="1.2"/><rect x="-25" y="-18" width="50" height="36" rx="3" fill="url(#muff)"/><rect x="-25" y="-18" width="3.5" height="36" fill="#c4c2be"/><rect x="21.5" y="-18" width="3.5" height="36" fill="#c4c2be"/></g>
<path d="M712 115 L774 138 L776 147 L770 148 L710 125Z" fill="#4c4e53" stroke="#6c6e73" stroke-width="0.8"/><path d="M712 295 L774 272 L776 263 L770 262 L710 285Z" fill="#4c4e53" stroke="#6c6e73" stroke-width="0.8"/>
<path d="M682 104 L722 82M682 306 L722 328" stroke="#7c7c7a" stroke-width="3.5"/>
<rect x="672" y="98" width="16" height="14" rx="3" fill="#3a3c41"/><rect x="672" y="298" width="16" height="14" rx="3" fill="#3a3c41"/>
<path d="M728 82 L720 116M770 82 L771 136M728 328 L720 294M770 328 L771 274" stroke="#4f5156" stroke-width="6"/>
<path d="M745 90 V135M745 320 V275" stroke="#3d3f44" stroke-width="4"/>
<circle cx="700" cy="104" r="8" fill="#3a3c41"/><circle cx="700" cy="104" r="3.6" fill="#202124"/><circle cx="700" cy="306" r="8" fill="#3a3c41"/><circle cx="700" cy="306" r="3.6" fill="#202124"/>
<path d="M784 118 C792 128 790 146 784 156 C780 175 782 235 784 254 C790 264 792 282 784 292" stroke="#2b4174" stroke-width="2.4" fill="none"/>
<path d="M690 146 C700 136 712 134 724 139 C740 146 760 160 778 165 C790 168 798 162 804 152 C810 142 814 136 822 131" stroke="#3c3c3a" stroke-width="9.5" fill="none"/>
<path d="M690 146 C700 136 712 134 724 139 C740 146 760 160 778 165 C790 168 798 162 804 152 C810 142 814 136 822 131" stroke="#8f8e8a" stroke-width="7" fill="none"/>
<path d="M690 146 C700 136 712 134 724 139 C740 146 760 160 778 165 C790 168 798 162 804 152 C810 142 814 136 822 131" stroke="#c2c1bd" stroke-width="2.2" fill="none" transform="translate(-0.8,-1.2)"/>
<path d="M690 269 C705 275 725 273 745 266 C765 259 786 250 794 236 C802 222 798 205 796 192 C795 178 802 167 812 160 C820 154 826 152 832 150" stroke="#3c3c3a" stroke-width="9.5" fill="none"/>
<path d="M690 269 C705 275 725 273 745 266 C765 259 786 250 794 236 C802 222 798 205 796 192 C795 178 802 167 812 160 C820 154 826 152 832 150" stroke="#8f8e8a" stroke-width="7" fill="none"/>
<path d="M690 269 C705 275 725 273 745 266 C765 259 786 250 794 236 C802 222 798 205 796 192 C795 178 802 167 812 160 C820 154 826 152 832 150" stroke="#c2c1bd" stroke-width="2.2" fill="none" transform="translate(-0.8,-1.2)"/>
<g transform="translate(849.5,112.3) rotate(-25)"><rect x="-38" y="-33" width="76" height="66" rx="5" fill="#4b4a47"/><rect x="-34.5" y="-30" width="69" height="60" rx="4" fill="url(#muff)"/><rect x="-34.5" y="-30" width="4" height="60" fill="#c9c7c2"/><rect x="30.5" y="-30" width="4" height="60" fill="#5d5b58"/></g>
<path d="M896.4 50.7 C899.2 52.4 908.0 57.0 913.0 60.7 C918.0 64.5 922.7 68.4 926.3 73.2 C929.9 78.0 932.2 82.6 934.6 89.8 C937.0 97.0 938.9 106.4 940.4 116.4 C941.9 126.4 943.0 135.8 943.8 149.6 C944.6 163.4 945.2 186.1 945.4 199.5 C945.6 212.9 945.3 221.2 945.0 230.0 C944.7 238.8 943.9 245.3 943.4 252.0 C942.9 258.7 942.7 264.0 942.0 270.0 C941.3 276.0 940.2 282.5 939.0 288.0 C937.8 293.5 936.4 297.7 934.6 303.0 C932.8 308.3 931.3 314.2 928.0 319.8 C924.7 325.4 920.0 331.1 914.7 336.4 C909.4 341.6 899.5 348.8 896.4 351.3 " fill="none" stroke="#3a3e46" stroke-width="56"/>
<path d="M896.4 50.7 C899.2 52.4 908.0 57.0 913.0 60.7 C918.0 64.5 922.7 68.4 926.3 73.2 C929.9 78.0 932.2 82.6 934.6 89.8 C937.0 97.0 938.9 106.4 940.4 116.4 C941.9 126.4 943.0 135.8 943.8 149.6 C944.6 163.4 945.2 186.1 945.4 199.5 C945.6 212.9 945.3 221.2 945.0 230.0 C944.7 238.8 943.9 245.3 943.4 252.0 C942.9 258.7 942.7 264.0 942.0 270.0 C941.3 276.0 940.2 282.5 939.0 288.0 C937.8 293.5 936.4 297.7 934.6 303.0 C932.8 308.3 931.3 314.2 928.0 319.8 C924.7 325.4 920.0 331.1 914.7 336.4 C909.4 341.6 899.5 348.8 896.4 351.3 " fill="none" stroke="#d6dae1" stroke-width="33"/>
<path d="M896.4 50.7 C899.2 52.4 908.0 57.0 913.0 60.7 C918.0 64.5 922.7 68.4 926.3 73.2 C929.9 78.0 932.2 82.6 934.6 89.8 C937.0 97.0 938.9 106.4 940.4 116.4 C941.9 126.4 943.0 135.8 943.8 149.6 C944.6 163.4 945.2 186.1 945.4 199.5 C945.6 212.9 945.3 221.2 945.0 230.0 C944.7 238.8 943.9 245.3 943.4 252.0 C942.9 258.7 942.7 264.0 942.0 270.0 C941.3 276.0 940.2 282.5 939.0 288.0 C937.8 293.5 936.4 297.7 934.6 303.0 C932.8 308.3 931.3 314.2 928.0 319.8 C924.7 325.4 920.0 331.1 914.7 336.4 C909.4 341.6 899.5 348.8 896.4 351.3 " fill="none" stroke="#eef0f3" stroke-width="14"/>
<path d="M813 18 L896.4 50.7" stroke="#2a2d33" stroke-width="20"/><path d="M813 18 L896.4 50.7" stroke="#c9ced6" stroke-width="4"/>
<path d="M812 389 L896.4 351.3" stroke="#24262b" stroke-width="22"/>
<rect x="878" y="81.5" width="52" height="18.5" rx="4" fill="#c6c6c4"/><rect x="878" y="93" width="52" height="7" rx="3" fill="#8f8f8c"/><rect x="902" y="81.5" width="2.5" height="18.5" fill="#7a7a78"/>
<path d="M298 15.5 L676 19.5 L676 29 L520 30 L330 33 L306 32 Z" fill="url(#sill)"/>
<path d="M585 28 L676 27 L676 40 L585 40Z" fill="#4a4e56"/>
<path d="M288 14 L299 15.5 L308 33 L300 44 L288 44Z" fill="#25282d"/>
<path d="M306 32 L330 33 L520 30 L585 29 L585 36 L306 37.5Z" fill="#3a3e45"/>
<path d="M290 386 L306 384 L470 381.5 L676 388 L676 371 L306 369 L290 371Z" fill="#2b2d31"/>
<path d="M300 370 H672" stroke="#4d525a" stroke-width="1.5"/>
</g>
<defs><clipPath id="tc1537"><path d="M153.6 24 Q153.6 13 167.6 11 Q220.95 3 274.3 11 Q288.3 13 288.3 24 L288.3 62.3 Q288.3 71.3 276.3 72.3 Q220.95 76.3 165.6 72.3 Q153.6 71.3 153.6 62.3Z"/></clipPath></defs><path d="M153.6 24 Q153.6 13 167.6 11 Q220.95 3 274.3 11 Q288.3 13 288.3 24 L288.3 62.3 Q288.3 71.3 276.3 72.3 Q220.95 76.3 165.6 72.3 Q153.6 71.3 153.6 62.3Z" fill="#1f9b9d"/><g clip-path="url(#tc1537)"><rect x="153.6" y="3" width="134.70000000000002" height="75.3" fill="url(#tread)" opacity="0.8"/><path d="M151.6 18.4 Q220.95 12.9 290.3 18.4" stroke="#13797b" stroke-width="1.6" fill="none"/><path d="M151.6 20.6 Q220.95 15.1 290.3 20.6" stroke="#46b9ba" stroke-width="1.2" fill="none" opacity="0.6"/><path d="M151.6 29.2 Q220.95 25.2 290.3 29.2" stroke="#13797b" stroke-width="1.6" fill="none"/><path d="M151.6 31.4 Q220.95 27.4 290.3 31.4" stroke="#46b9ba" stroke-width="1.2" fill="none" opacity="0.6"/><path d="M151.6 40.6 Q220.95 38.2 290.3 40.6" stroke="#13797b" stroke-width="1.6" fill="none"/><path d="M151.6 42.9 Q220.95 40.5 290.3 42.9" stroke="#46b9ba" stroke-width="1.2" fill="none" opacity="0.6"/><path d="M151.6 52.1 Q220.95 51.3 290.3 52.1" stroke="#13797b" stroke-width="1.6" fill="none"/><path d="M151.6 54.3 Q220.95 53.5 290.3 54.3" stroke="#46b9ba" stroke-width="1.2" fill="none" opacity="0.6"/><path d="M151.6 62.9 Q220.95 63.6 290.3 62.9" stroke="#13797b" stroke-width="1.6" fill="none"/><path d="M151.6 65.1 Q220.95 65.8 290.3 65.1" stroke="#46b9ba" stroke-width="1.2" fill="none" opacity="0.6"/><rect x="153.6" y="3" width="7" height="75.3" fill="#0f6f71" opacity="0.35"/><rect x="281.3" y="3" width="7" height="75.3" fill="#0f6f71" opacity="0.35"/></g>
<defs><clipPath id="tc157325"><path d="M157 337.5 Q157 328.5 169 327.5 Q222.8 323.5 276.6 327.5 Q288.6 328.5 288.6 337.5 L288.6 384.8 Q288.6 395.8 274.6 397.8 Q222.8 405.8 171 397.8 Q157 395.8 157 384.8Z"/></clipPath></defs><path d="M157 337.5 Q157 328.5 169 327.5 Q222.8 323.5 276.6 327.5 Q288.6 328.5 288.6 337.5 L288.6 384.8 Q288.6 395.8 274.6 397.8 Q222.8 405.8 171 397.8 Q157 395.8 157 384.8Z" fill="#1f9b9d"/><g clip-path="url(#tc157325)"><rect x="157" y="321.5" width="131.60000000000002" height="84.30000000000001" fill="url(#tread)" opacity="0.8"/><path d="M155 338.5 Q222.8 337.7 290.6 338.5" stroke="#13797b" stroke-width="1.6" fill="none"/><path d="M155 340.7 Q222.8 339.9 290.6 340.7" stroke="#46b9ba" stroke-width="1.2" fill="none" opacity="0.6"/><path d="M155 350.7 Q222.8 351.4 290.6 350.7" stroke="#13797b" stroke-width="1.6" fill="none"/><path d="M155 352.9 Q222.8 353.6 290.6 352.9" stroke="#46b9ba" stroke-width="1.2" fill="none" opacity="0.6"/><path d="M155 363.6 Q222.8 366.0 290.6 363.6" stroke="#13797b" stroke-width="1.6" fill="none"/><path d="M155 365.8 Q222.8 368.2 290.6 365.8" stroke="#46b9ba" stroke-width="1.2" fill="none" opacity="0.6"/><path d="M155 376.6 Q222.8 380.7 290.6 376.6" stroke="#13797b" stroke-width="1.6" fill="none"/><path d="M155 378.8 Q222.8 382.9 290.6 378.8" stroke="#46b9ba" stroke-width="1.2" fill="none" opacity="0.6"/><path d="M155 388.8 Q222.8 394.4 290.6 388.8" stroke="#13797b" stroke-width="1.6" fill="none"/><path d="M155 391.0 Q222.8 396.6 290.6 391.0" stroke="#46b9ba" stroke-width="1.2" fill="none" opacity="0.6"/><rect x="157" y="321.5" width="7" height="84.30000000000001" fill="#0f6f71" opacity="0.35"/><rect x="281.6" y="321.5" width="7" height="84.30000000000001" fill="#0f6f71" opacity="0.35"/></g>
<defs><clipPath id="tc6787"><path d="M678.5 24.6 Q678.5 13.6 692.5 11.6 Q745.75 3.5999999999999996 799 11.6 Q813 13.6 813 24.6 L813 67 Q813 76 801 77 Q745.75 81 690.5 77 Q678.5 76 678.5 67Z"/></clipPath></defs><path d="M678.5 24.6 Q678.5 13.6 692.5 11.6 Q745.75 3.5999999999999996 799 11.6 Q813 13.6 813 24.6 L813 67 Q813 76 801 77 Q745.75 81 690.5 77 Q678.5 76 678.5 67Z" fill="#1f9b9d"/><g clip-path="url(#tc6787)"><rect x="678.5" y="3.5999999999999996" width="134.5" height="79.4" fill="url(#tread)" opacity="0.8"/><path d="M676.5 19.7 Q745.75 14.2 815 19.7" stroke="#13797b" stroke-width="1.6" fill="none"/><path d="M676.5 21.9 Q745.75 16.4 815 21.9" stroke="#46b9ba" stroke-width="1.2" fill="none" opacity="0.6"/><path d="M676.5 31.2 Q745.75 27.1 815 31.2" stroke="#13797b" stroke-width="1.6" fill="none"/><path d="M676.5 33.4 Q745.75 29.3 815 33.4" stroke="#46b9ba" stroke-width="1.2" fill="none" opacity="0.6"/><path d="M676.5 43.3 Q745.75 40.9 815 43.3" stroke="#13797b" stroke-width="1.6" fill="none"/><path d="M676.5 45.5 Q745.75 43.1 815 45.5" stroke="#46b9ba" stroke-width="1.2" fill="none" opacity="0.6"/><path d="M676.5 55.4 Q745.75 54.7 815 55.4" stroke="#13797b" stroke-width="1.6" fill="none"/><path d="M676.5 57.6 Q745.75 56.9 815 57.6" stroke="#46b9ba" stroke-width="1.2" fill="none" opacity="0.6"/><path d="M676.5 66.9 Q745.75 67.6 815 66.9" stroke="#13797b" stroke-width="1.6" fill="none"/><path d="M676.5 69.1 Q745.75 69.8 815 69.1" stroke="#46b9ba" stroke-width="1.2" fill="none" opacity="0.6"/><rect x="678.5" y="3.5999999999999996" width="7" height="79.4" fill="#0f6f71" opacity="0.35"/><rect x="806" y="3.5999999999999996" width="7" height="79.4" fill="#0f6f71" opacity="0.35"/></g>
<defs><clipPath id="tc678323"><path d="M678 335.5 Q678 326.5 690 325.5 Q745.0 321.5 800 325.5 Q812 326.5 812 335.5 L812 384.2 Q812 395.2 798 397.2 Q745.0 405.2 692 397.2 Q678 395.2 678 384.2Z"/></clipPath></defs><path d="M678 335.5 Q678 326.5 690 325.5 Q745.0 321.5 800 325.5 Q812 326.5 812 335.5 L812 384.2 Q812 395.2 798 397.2 Q745.0 405.2 692 397.2 Q678 395.2 678 384.2Z" fill="#1f9b9d"/><g clip-path="url(#tc678323)"><rect x="678" y="319.5" width="134" height="85.69999999999999" fill="url(#tread)" opacity="0.8"/><path d="M676 336.7 Q745.0 335.9 814 336.7" stroke="#13797b" stroke-width="1.6" fill="none"/><path d="M676 338.9 Q745.0 338.1 814 338.9" stroke="#46b9ba" stroke-width="1.2" fill="none" opacity="0.6"/><path d="M676 349.1 Q745.0 349.9 814 349.1" stroke="#13797b" stroke-width="1.6" fill="none"/><path d="M676 351.3 Q745.0 352.1 814 351.3" stroke="#46b9ba" stroke-width="1.2" fill="none" opacity="0.6"/><path d="M676 362.4 Q745.0 364.8 814 362.4" stroke="#13797b" stroke-width="1.6" fill="none"/><path d="M676 364.6 Q745.0 366.9 814 364.6" stroke="#46b9ba" stroke-width="1.2" fill="none" opacity="0.6"/><path d="M676 375.6 Q745.0 379.6 814 375.6" stroke="#13797b" stroke-width="1.6" fill="none"/><path d="M676 377.8 Q745.0 381.8 814 377.8" stroke="#46b9ba" stroke-width="1.2" fill="none" opacity="0.6"/><path d="M676 388.0 Q745.0 393.6 814 388.0" stroke="#13797b" stroke-width="1.6" fill="none"/><path d="M676 390.2 Q745.0 395.8 814 390.2" stroke="#46b9ba" stroke-width="1.2" fill="none" opacity="0.6"/><rect x="678" y="319.5" width="7" height="85.69999999999999" fill="#0f6f71" opacity="0.35"/><rect x="805" y="319.5" width="7" height="85.69999999999999" fill="#0f6f71" opacity="0.35"/></g>
<use href="#light" transform="translate(214.8,44.9) rotate(0)"/>
<use href="#light" transform="translate(214.2,354) rotate(0)"/>
<use href="#light" transform="translate(405,58.8) rotate(0)"/>
<use href="#light" transform="translate(555,58.8) rotate(0)"/>
<use href="#light" transform="translate(405,354) rotate(0)"/>
<use href="#light" transform="translate(555,354) rotate(0)"/>
<use href="#light" transform="translate(747,44.9) rotate(0)"/>
<use href="#light" transform="translate(746.6,354) rotate(0)"/>
<use href="#light" transform="translate(50.5,212) rotate(90)"/>
<use href="#light" transform="translate(893.6,211) rotate(90)"/>
</g>
<g id="wiring">
<path d="M290 886.1 H1114.9 A25 25 0 0 0 1139.9 861.1 V580" fill="none" stroke="#000" stroke-width="6.6" />
<path d="M458 927.1 H1121.6 A25 25 0 0 0 1146.6 902.1 V580" fill="none" stroke="#000" stroke-width="6.6" />
<path d="M290 961.3 H1127.8 A25 25 0 0 0 1152.8 936.3 V580" fill="none" stroke="#000" stroke-width="6.6" />
<path d="M458 1003.3 H1134.4 A25 25 0 0 0 1159.4 978.3 V580" fill="none" stroke="#000" stroke-width="6.6" />
<path d="M290 1038.1 H1141.0 A25 25 0 0 0 1166.0 1013.0999999999999 V580" fill="none" stroke="#000" stroke-width="6.6" />
<path d="M458 1079.0 H1147.8 A25 25 0 0 0 1172.8 1054.0 V580" fill="none" stroke="#000" stroke-width="6.6" />
<path d="M290 1112.1 H1154.5 A25 25 0 0 0 1179.5 1087.1 V580" fill="none" stroke="#000" stroke-width="6.6" />
<path d="M458 1153.2 H1157.2 A25 25 0 0 0 1182.2 1128.2 V580" fill="none" stroke="#000" stroke-width="6.6" />
<path d="M290 1187.0 H1161.5 A25 25 0 0 0 1186.5 1162.0 V580" fill="none" stroke="#000" stroke-width="6.6" />
<path d="M458 1232.0 H1167.3 A25 25 0 0 0 1192.3 1207.0 V580" fill="none" stroke="#000" stroke-width="6.6" />
<rect x="1136.8" y="580" width="59" height="270" fill="#000"/>
<rect x="1138.9" y="584" width="8.7" height="281.1" fill="#000"/>
<rect x="1145.6" y="584" width="8.2" height="322.1" fill="#000"/>
<rect x="1151.8" y="584" width="8.6" height="356.3" fill="#000"/>
<rect x="1158.4" y="584" width="8.6" height="398.3" fill="#000"/>
<rect x="1165.0" y="584" width="8.8" height="433.1" fill="#000"/>
<rect x="1171.8" y="584" width="8.7" height="474.0" fill="#000"/>
<rect x="1178.5" y="584" width="4.7" height="507.1" fill="#000"/>
<rect x="1181.2" y="584" width="6.3" height="548.2" fill="#000"/>
<rect x="1185.5" y="584" width="7.8" height="582.0" fill="#000"/>
<rect x="1149.3" y="584" width="1" height="320" fill="#5a5a5a"/>
<rect x="1162.3" y="584" width="1" height="396" fill="#5a5a5a"/>
<rect x="1168.9" y="584" width="1" height="430" fill="#5a5a5a"/>
<rect x="1182.1" y="584" width="1" height="504" fill="#5a5a5a"/>
<use href="#pod" x="223.7" y="886.1"/>
<use href="#pod" x="223.7" y="962.4"/>
<use href="#pod" x="223.7" y="1037.2"/>
<use href="#pod" x="223.7" y="1113.0"/>
<use href="#pod" x="223.7" y="1187.9"/>
<use href="#pod" x="391.5" y="928.5"/>
<use href="#pod" x="391.5" y="1004.3"/>
<use href="#pod" x="391.5" y="1079.6"/>
<use href="#pod" x="391.5" y="1155.4"/>
<use href="#pod" x="391.5" y="1230.7"/>
<use href="#conn" y="886.1"/>
<use href="#conn" y="927.1"/>
<use href="#conn" y="961.3"/>
<use href="#conn" y="1003.3"/>
<use href="#conn" y="1038.1"/>
<use href="#conn" y="1079.0"/>
<use href="#conn" y="1112.1"/>
<use href="#conn" y="1153.2"/>
<use href="#conn" y="1187.0"/>
<use href="#conn" y="1232.0"/>
<path d="M1153.5 455 Q1153.5 451.5 1157 451.5 H1177 Q1180.5 451.5 1180.5 455 V483 H1153.5Z" fill="#1b1b1b"/>
<rect x="1153.5" y="456.5" width="27" height="1.6" fill="#050505"/>
<rect x="1153.5" y="461.5" width="27" height="1.6" fill="#050505"/>
<rect x="1153.5" y="466.5" width="27" height="1.6" fill="#050505"/>
<rect x="1153.5" y="471.5" width="27" height="1.6" fill="#050505"/>
<rect x="1153.5" y="476.5" width="27" height="1.6" fill="#050505"/>
<path d="M1146 481.5 H1185.5 Q1188 481.5 1189 484 L1197.8 513 V573 Q1197.8 575.5 1196.8 576 V584.5 H1136.6 V576 Q1134 575.5 1133.8 573 V513 L1142.5 484 Q1143.5 481.5 1146 481.5Z" fill="#161616"/>
<rect x="1136.6" y="575" width="60.2" height="9.5" fill="#0d0d0d"/>
<defs><pattern id="hatch" width="2.6" height="2.6" patternUnits="userSpaceOnUse" patternTransform="rotate(40)"><rect width="2.6" height="2.6" fill="#0c0c0c"/><rect width="2.6" height="0.9" fill="#cfcfcf"/></pattern></defs>
<rect x="1153" y="497" width="29" height="54" rx="12" fill="url(#hatch)"/>
<circle cx="1167" cy="494" r="1.2" fill="#000"/><circle cx="1153.5" cy="553" r="1.2" fill="#000"/><circle cx="1182" cy="553" r="1.2" fill="#000"/>
<path d="M1042.4 380 V268.8 A30 30 0 0 1 1072.4 238.8 H1138.2 A30 30 0 0 1 1168.2 268.8 V455" fill="none" stroke="#000" stroke-width="8.6" />
<path d="M1055.5 388 V268.5 A16 16 0 0 1 1071.5 252.5 H1137.4 A16 16 0 0 1 1153.4 268.5 V442" fill="none" stroke="#000" stroke-width="1.4" />
<path d="M1055.5 391 L1052.1 382.5 L1058.9 382.5Z" fill="#000"/>
<path d="M1047.4 391.2 H1063.8" fill="none" stroke="#000" stroke-width="1.6" />
<path d="M1153.4 446 L1150.0 437.5 L1156.8000000000002 437.5Z" fill="#000"/>
<path d="M1144.6 446.2 H1160.6" fill="none" stroke="#000" stroke-width="1.6" />
<text transform="translate(1050.31,226.8) scale(0.9381,1)" font-size="33.2" fill="#84420f" font-weight="normal" >16.92in</text>
<rect x="1037.2" y="365" width="10.6" height="34" rx="2" fill="#1d1b1b"/>
<path d="M1036.0 397.5 L1049.5 397.5 L1055.5 425.5 L1029.8 425.5Z" fill="#1c1a1a"/>
<path d="M1041.5 372l1.5 3M1042.0 381l1.5 3M1042.5 390l1.5 3M1043.5 405l2 4M1044.0 414l2.5 5" stroke="#aaa" stroke-width="0.9" fill="none" opacity="0.7"/>
<rect x="1026.0" y="425" width="30.5" height="30" rx="1.5" fill="#171515"/>
<rect x="1024.2" y="454" width="34" height="37" rx="1.5" fill="#141212"/>
<path d="M1024.5 473 L1019.0 479 L1023.0 485 L1024.5 484Z M1058.0 473 L1063.5 479 L1059.5 485 L1058.0 484Z" fill="#141212"/>
<rect x="1039.9" y="441" width="1.2" height="30" fill="#2e2b2b"/><rect x="1044.1" y="441" width="1.2" height="30" fill="#2e2b2b"/>
<path d="M1026.5 490 L1056.5 490 L1049.7 499 L1049.5 541.5 L1047.8 543 L1047.8 570 L1036.9 570 L1036.9 543 L1034.0 541.5 L1033.6 499Z" fill="#1c1a1b"/>
<rect x="1039.5" y="505" width="5" height="34" fill="#333" opacity="0.6" filter="url(#b1)"/>
<path d="M1042.5 566 V744 A28 28 0 0 1 1014.5 772 H919" fill="none" stroke="#000" stroke-width="8.4" />
<path d="M1026.6 550 V740.4 A15 15 0 0 1 1011.6 755.4 H930" fill="none" stroke="#000" stroke-width="1.4" />
<path d="M1026.6 547.6 L1023.1999999999999 556.1 L1030.0 556.1Z" fill="#000"/>
<path d="M1018.4 547.2 H1034.8" fill="none" stroke="#000" stroke-width="1.6" />
<path d="M926 755.4 L935 752.0 L935 758.8Z" fill="#000"/>
<path d="M925.6 748.4 V762.4" fill="none" stroke="#000" stroke-width="1.6" />
<text transform="translate(918.71,738.8) scale(0.9381,1)" font-size="33.2" fill="#84420f" font-weight="normal" >16.92in</text>
<path d="M1126.4 581 V849 A21 21 0 0 1 1105.4 870 H902" fill="none" stroke="#000" stroke-width="1.4" />
<path d="M1126.4 578.4 L1123.0 586.9 L1129.8000000000002 586.9Z" fill="#000"/>
<path d="M1118.4 578 H1134.8" fill="none" stroke="#000" stroke-width="1.6" />
<path d="M897.6 870 L906.6 866.6 L906.6 873.4Z" fill="#000"/>
<path d="M897 861.6 V877.6" fill="none" stroke="#000" stroke-width="1.6" />
<text transform="translate(980.42,862.6) scale(0.9532,1)" font-size="33.2" fill="#84420f" font-weight="normal" >7.48in</text>
<path d="M304 871.5 H794" fill="none" stroke="#000" stroke-width="1.4" />
<path d="M300.2 871.5 L309.2 868.1 L309.2 874.9Z" fill="#000"/>
<path d="M299.6 863.8 V879.2" fill="none" stroke="#000" stroke-width="1.6" />
<path d="M798.6 871.5 L789.6 868.1 L789.6 874.9Z" fill="#000"/>
<path d="M799.2 864 V880" fill="none" stroke="#000" stroke-width="1.6" />
<text transform="translate(482.74,862.6) scale(0.9453,1)" font-size="33.2" fill="#84420f" font-weight="normal" >54.72in</text>
<path d="M660 772.8 H803" fill="none" stroke="#000" stroke-width="8.2" />
<path d="M803 782 H688 A8 8 0 0 0 680 790 V836" fill="none" stroke="#1747e6" stroke-width="4.6" />
<path d="M678.4 835.5 h3.4 l0.3 12.5 h-3.4Z" fill="#d9866a"/><path d="M679.3 836v12" stroke="#f3c4b0" stroke-width="0.8"/>
<rect x="798" y="764" width="6" height="22" rx="2" fill="#222"/><rect x="919" y="764" width="5" height="16" rx="2" fill="#222"/>
<rect x="803.4" y="737.5" width="115.6" height="68" rx="5.5" fill="#f3f3f3" stroke="#2a2a2c" stroke-width="2.8"/>
<rect x="812" y="753.6" width="48.4" height="9.2" fill="#e3222a"/>
<rect x="812" y="766.8" width="48.4" height="9.2" fill="#050505"/>
<rect x="812" y="779.8" width="48.4" height="9.2" fill="#3b7fc6"/>
<path d="M879.80 745.00h1.27v1.30h-1.27zM882.34 745.00h2.54v1.30h-2.54zM884.88 745.00h1.27v1.30h-1.27zM889.95 745.00h1.27v1.30h-1.27zM892.49 745.00h1.27v1.30h-1.27zM893.76 745.00h1.27v1.30h-1.27zM884.88 746.25h1.27v1.30h-1.27zM886.15 746.25h1.27v1.30h-1.27zM887.42 746.25h1.27v1.30h-1.27zM889.95 746.25h1.27v1.30h-1.27zM891.22 746.25h1.27v1.30h-1.27zM897.57 746.25h1.27v1.30h-1.27zM878.53 747.51h1.27v1.30h-1.27zM879.80 747.51h1.27v1.30h-1.27zM883.61 747.51h1.27v1.30h-1.27zM884.88 747.51h1.27v1.30h-1.27zM887.42 747.51h1.27v1.30h-1.27zM892.49 747.51h1.27v1.30h-1.27zM877.26 748.76h2.54v1.30h-2.54zM882.34 748.76h2.54v1.30h-2.54zM889.95 748.76h1.27v1.30h-1.27zM892.49 748.76h2.54v1.30h-2.54zM895.03 748.76h1.27v1.30h-1.27zM897.57 748.76h1.27v1.30h-1.27zM879.80 750.02h1.27v1.30h-1.27zM884.88 750.02h2.54v1.30h-2.54zM889.95 750.02h1.27v1.30h-1.27zM891.22 750.02h1.27v1.30h-1.27zM895.03 750.02h1.27v1.30h-1.27zM877.26 751.27h1.27v1.30h-1.27zM879.80 751.27h1.27v1.30h-1.27zM881.07 751.27h1.27v1.30h-1.27zM884.88 751.27h2.54v1.30h-2.54zM888.68 751.27h1.27v1.30h-1.27zM892.49 751.27h3.81v1.30h-3.81zM896.30 751.27h1.27v1.30h-1.27zM877.26 752.53h5.08v1.30h-5.08zM886.15 752.53h2.54v1.30h-2.54zM888.68 752.53h1.27v1.30h-1.27zM889.95 752.53h1.27v1.30h-1.27zM891.22 752.53h5.08v1.30h-5.08zM896.30 752.53h1.27v1.30h-1.27zM877.26 753.78h1.27v1.30h-1.27zM878.53 753.78h1.27v1.30h-1.27zM879.80 753.78h2.54v1.30h-2.54zM882.34 753.78h1.27v1.30h-1.27zM883.61 753.78h1.27v1.30h-1.27zM884.88 753.78h1.27v1.30h-1.27zM887.42 753.78h1.27v1.30h-1.27zM888.68 753.78h1.27v1.30h-1.27zM889.95 753.78h1.27v1.30h-1.27zM891.22 753.78h1.27v1.30h-1.27zM893.76 753.78h1.27v1.30h-1.27zM896.30 753.78h1.27v1.30h-1.27zM897.57 753.78h1.27v1.30h-1.27zM867.10 755.04h1.27v1.30h-1.27zM868.37 755.04h1.27v1.30h-1.27zM870.91 755.04h2.54v1.30h-2.54zM874.72 755.04h1.27v1.30h-1.27zM877.26 755.04h1.27v1.30h-1.27zM878.53 755.04h1.27v1.30h-1.27zM883.61 755.04h3.81v1.30h-3.81zM887.42 755.04h1.27v1.30h-1.27zM888.68 755.04h1.27v1.30h-1.27zM889.95 755.04h2.54v1.30h-2.54zM892.49 755.04h1.27v1.30h-1.27zM893.76 755.04h1.27v1.30h-1.27zM895.03 755.04h1.27v1.30h-1.27zM898.84 755.04h1.27v1.30h-1.27zM900.11 755.04h1.27v1.30h-1.27zM867.10 756.29h1.27v1.30h-1.27zM869.64 756.29h1.27v1.30h-1.27zM874.72 756.29h2.54v1.30h-2.54zM877.26 756.29h1.27v1.30h-1.27zM878.53 756.29h3.81v1.30h-3.81zM883.61 756.29h5.08v1.30h-5.08zM889.95 756.29h1.27v1.30h-1.27zM891.22 756.29h1.27v1.30h-1.27zM892.49 756.29h2.54v1.30h-2.54zM898.84 756.29h3.81v1.30h-3.81zM902.65 756.29h1.27v1.30h-1.27zM903.92 756.29h1.27v1.30h-1.27zM906.46 756.29h1.27v1.30h-1.27zM867.10 757.55h1.27v1.30h-1.27zM870.91 757.55h1.27v1.30h-1.27zM873.45 757.55h1.27v1.30h-1.27zM874.72 757.55h1.27v1.30h-1.27zM877.26 757.55h2.54v1.30h-2.54zM879.80 757.55h1.27v1.30h-1.27zM881.07 757.55h2.54v1.30h-2.54zM883.61 757.55h1.27v1.30h-1.27zM886.15 757.55h1.27v1.30h-1.27zM887.42 757.55h1.27v1.30h-1.27zM893.76 757.55h1.27v1.30h-1.27zM896.30 757.55h2.54v1.30h-2.54zM901.38 757.55h3.81v1.30h-3.81zM905.19 757.55h1.27v1.30h-1.27zM906.46 757.55h1.27v1.30h-1.27zM867.10 758.80h3.81v1.30h-3.81zM872.18 758.80h1.27v1.30h-1.27zM874.72 758.80h1.27v1.30h-1.27zM878.53 758.80h1.27v1.30h-1.27zM881.07 758.80h1.27v1.30h-1.27zM883.61 758.80h2.54v1.30h-2.54zM887.42 758.80h2.54v1.30h-2.54zM892.49 758.80h1.27v1.30h-1.27zM895.03 758.80h2.54v1.30h-2.54zM898.84 758.80h1.27v1.30h-1.27zM905.19 758.80h1.27v1.30h-1.27zM868.37 760.05h1.27v1.30h-1.27zM870.91 760.05h5.08v1.30h-5.08zM878.53 760.05h2.54v1.30h-2.54zM895.03 760.05h1.27v1.30h-1.27zM897.57 760.05h1.27v1.30h-1.27zM898.84 760.05h2.54v1.30h-2.54zM901.38 760.05h1.27v1.30h-1.27zM905.19 760.05h2.54v1.30h-2.54zM907.73 760.05h1.27v1.30h-1.27zM869.64 761.31h3.81v1.30h-3.81zM874.72 761.31h2.54v1.30h-2.54zM877.26 761.31h3.81v1.30h-3.81zM881.07 761.31h1.27v1.30h-1.27zM884.88 761.31h1.27v1.30h-1.27zM886.15 761.31h6.35v1.30h-6.35zM893.76 761.31h5.08v1.30h-5.08zM898.84 761.31h1.27v1.30h-1.27zM902.65 761.31h1.27v1.30h-1.27zM903.92 761.31h1.27v1.30h-1.27zM867.10 762.56h2.54v1.30h-2.54zM869.64 762.56h2.54v1.30h-2.54zM872.18 762.56h1.27v1.30h-1.27zM878.53 762.56h1.27v1.30h-1.27zM879.80 762.56h1.27v1.30h-1.27zM881.07 762.56h1.27v1.30h-1.27zM882.34 762.56h1.27v1.30h-1.27zM883.61 762.56h1.27v1.30h-1.27zM886.15 762.56h1.27v1.30h-1.27zM887.42 762.56h1.27v1.30h-1.27zM889.95 762.56h1.27v1.30h-1.27zM891.22 762.56h1.27v1.30h-1.27zM892.49 762.56h1.27v1.30h-1.27zM893.76 762.56h2.54v1.30h-2.54zM900.11 762.56h1.27v1.30h-1.27zM902.65 762.56h1.27v1.30h-1.27zM905.19 762.56h1.27v1.30h-1.27zM867.10 763.82h1.27v1.30h-1.27zM868.37 763.82h1.27v1.30h-1.27zM869.64 763.82h2.54v1.30h-2.54zM872.18 763.82h2.54v1.30h-2.54zM881.07 763.82h1.27v1.30h-1.27zM883.61 763.82h1.27v1.30h-1.27zM884.88 763.82h1.27v1.30h-1.27zM886.15 763.82h2.54v1.30h-2.54zM888.68 763.82h2.54v1.30h-2.54zM896.30 763.82h2.54v1.30h-2.54zM901.38 763.82h1.27v1.30h-1.27zM903.92 763.82h1.27v1.30h-1.27zM906.46 763.82h2.54v1.30h-2.54zM872.18 765.07h1.27v1.30h-1.27zM873.45 765.07h1.27v1.30h-1.27zM875.99 765.07h1.27v1.30h-1.27zM878.53 765.07h1.27v1.30h-1.27zM881.07 765.07h2.54v1.30h-2.54zM883.61 765.07h1.27v1.30h-1.27zM886.15 765.07h1.27v1.30h-1.27zM887.42 765.07h2.54v1.30h-2.54zM897.57 765.07h1.27v1.30h-1.27zM900.11 765.07h1.27v1.30h-1.27zM901.38 765.07h1.27v1.30h-1.27zM902.65 765.07h1.27v1.30h-1.27zM903.92 765.07h3.81v1.30h-3.81zM907.73 765.07h1.27v1.30h-1.27zM867.10 766.33h1.27v1.30h-1.27zM869.64 766.33h1.27v1.30h-1.27zM870.91 766.33h1.27v1.30h-1.27zM872.18 766.33h3.81v1.30h-3.81zM875.99 766.33h1.27v1.30h-1.27zM882.34 766.33h2.54v1.30h-2.54zM887.42 766.33h1.27v1.30h-1.27zM888.68 766.33h1.27v1.30h-1.27zM893.76 766.33h1.27v1.30h-1.27zM897.57 766.33h1.27v1.30h-1.27zM898.84 766.33h2.54v1.30h-2.54zM902.65 766.33h1.27v1.30h-1.27zM903.92 766.33h1.27v1.30h-1.27zM907.73 766.33h1.27v1.30h-1.27zM867.10 767.58h1.27v1.30h-1.27zM870.91 767.58h3.81v1.30h-3.81zM875.99 767.58h2.54v1.30h-2.54zM881.07 767.58h2.54v1.30h-2.54zM883.61 767.58h1.27v1.30h-1.27zM888.68 767.58h1.27v1.30h-1.27zM891.22 767.58h1.27v1.30h-1.27zM892.49 767.58h1.27v1.30h-1.27zM893.76 767.58h1.27v1.30h-1.27zM895.03 767.58h1.27v1.30h-1.27zM898.84 767.58h1.27v1.30h-1.27zM867.10 768.84h1.27v1.30h-1.27zM869.64 768.84h1.27v1.30h-1.27zM872.18 768.84h1.27v1.30h-1.27zM878.53 768.84h1.27v1.30h-1.27zM879.80 768.84h1.27v1.30h-1.27zM883.61 768.84h3.81v1.30h-3.81zM887.42 768.84h2.54v1.30h-2.54zM891.22 768.84h1.27v1.30h-1.27zM895.03 768.84h1.27v1.30h-1.27zM896.30 768.84h1.27v1.30h-1.27zM898.84 768.84h1.27v1.30h-1.27zM902.65 768.84h1.27v1.30h-1.27zM903.92 768.84h1.27v1.30h-1.27zM905.19 768.84h1.27v1.30h-1.27zM906.46 768.84h1.27v1.30h-1.27zM907.73 768.84h1.27v1.30h-1.27zM867.10 770.09h1.27v1.30h-1.27zM868.37 770.09h1.27v1.30h-1.27zM869.64 770.09h1.27v1.30h-1.27zM874.72 770.09h1.27v1.30h-1.27zM882.34 770.09h2.54v1.30h-2.54zM886.15 770.09h1.27v1.30h-1.27zM891.22 770.09h1.27v1.30h-1.27zM898.84 770.09h1.27v1.30h-1.27zM905.19 770.09h1.27v1.30h-1.27zM907.73 770.09h1.27v1.30h-1.27zM869.64 771.35h1.27v1.30h-1.27zM873.45 771.35h1.27v1.30h-1.27zM877.26 771.35h1.27v1.30h-1.27zM883.61 771.35h1.27v1.30h-1.27zM889.95 771.35h1.27v1.30h-1.27zM891.22 771.35h3.81v1.30h-3.81zM896.30 771.35h1.27v1.30h-1.27zM897.57 771.35h1.27v1.30h-1.27zM902.65 771.35h2.54v1.30h-2.54zM905.19 771.35h1.27v1.30h-1.27zM867.10 772.60h2.54v1.30h-2.54zM870.91 772.60h1.27v1.30h-1.27zM872.18 772.60h1.27v1.30h-1.27zM873.45 772.60h1.27v1.30h-1.27zM874.72 772.60h2.54v1.30h-2.54zM882.34 772.60h1.27v1.30h-1.27zM888.68 772.60h1.27v1.30h-1.27zM889.95 772.60h2.54v1.30h-2.54zM893.76 772.60h1.27v1.30h-1.27zM895.03 772.60h2.54v1.30h-2.54zM897.57 772.60h2.54v1.30h-2.54zM902.65 772.60h1.27v1.30h-1.27zM905.19 772.60h2.54v1.30h-2.54zM870.91 773.85h3.81v1.30h-3.81zM875.99 773.85h1.27v1.30h-1.27zM877.26 773.85h1.27v1.30h-1.27zM878.53 773.85h5.08v1.30h-5.08zM883.61 773.85h2.54v1.30h-2.54zM886.15 773.85h1.27v1.30h-1.27zM895.03 773.85h1.27v1.30h-1.27zM897.57 773.85h1.27v1.30h-1.27zM898.84 773.85h1.27v1.30h-1.27zM905.19 773.85h1.27v1.30h-1.27zM906.46 773.85h1.27v1.30h-1.27zM907.73 773.85h1.27v1.30h-1.27zM870.91 775.11h2.54v1.30h-2.54zM874.72 775.11h1.27v1.30h-1.27zM875.99 775.11h2.54v1.30h-2.54zM878.53 775.11h1.27v1.30h-1.27zM883.61 775.11h1.27v1.30h-1.27zM886.15 775.11h1.27v1.30h-1.27zM888.68 775.11h1.27v1.30h-1.27zM893.76 775.11h1.27v1.30h-1.27zM896.30 775.11h1.27v1.30h-1.27zM900.11 775.11h2.54v1.30h-2.54zM903.92 775.11h1.27v1.30h-1.27zM906.46 775.11h1.27v1.30h-1.27zM907.73 775.11h1.27v1.30h-1.27zM877.26 776.36h2.54v1.30h-2.54zM881.07 776.36h2.54v1.30h-2.54zM883.61 776.36h2.54v1.30h-2.54zM889.95 776.36h1.27v1.30h-1.27zM891.22 776.36h1.27v1.30h-1.27zM892.49 776.36h1.27v1.30h-1.27zM895.03 776.36h1.27v1.30h-1.27zM902.65 776.36h2.54v1.30h-2.54zM906.46 776.36h1.27v1.30h-1.27zM907.73 776.36h1.27v1.30h-1.27zM878.53 777.62h2.54v1.30h-2.54zM881.07 777.62h1.27v1.30h-1.27zM883.61 777.62h1.27v1.30h-1.27zM884.88 777.62h1.27v1.30h-1.27zM887.42 777.62h1.27v1.30h-1.27zM888.68 777.62h1.27v1.30h-1.27zM891.22 777.62h1.27v1.30h-1.27zM896.30 777.62h1.27v1.30h-1.27zM898.84 777.62h1.27v1.30h-1.27zM900.11 777.62h1.27v1.30h-1.27zM901.38 777.62h1.27v1.30h-1.27zM902.65 777.62h3.81v1.30h-3.81zM878.53 778.87h1.27v1.30h-1.27zM886.15 778.87h1.27v1.30h-1.27zM887.42 778.87h1.27v1.30h-1.27zM889.95 778.87h2.54v1.30h-2.54zM892.49 778.87h1.27v1.30h-1.27zM895.03 778.87h2.54v1.30h-2.54zM897.57 778.87h5.08v1.30h-5.08zM903.92 778.87h1.27v1.30h-1.27zM907.73 778.87h1.27v1.30h-1.27zM879.80 780.13h1.27v1.30h-1.27zM882.34 780.13h1.27v1.30h-1.27zM887.42 780.13h1.27v1.30h-1.27zM889.95 780.13h1.27v1.30h-1.27zM893.76 780.13h1.27v1.30h-1.27zM896.30 780.13h2.54v1.30h-2.54zM901.38 780.13h1.27v1.30h-1.27zM902.65 780.13h1.27v1.30h-1.27zM903.92 780.13h2.54v1.30h-2.54zM906.46 780.13h1.27v1.30h-1.27zM879.80 781.38h5.08v1.30h-5.08zM884.88 781.38h1.27v1.30h-1.27zM886.15 781.38h1.27v1.30h-1.27zM887.42 781.38h2.54v1.30h-2.54zM889.95 781.38h1.27v1.30h-1.27zM892.49 781.38h2.54v1.30h-2.54zM900.11 781.38h3.81v1.30h-3.81zM906.46 781.38h2.54v1.30h-2.54zM881.07 782.64h1.27v1.30h-1.27zM884.88 782.64h1.27v1.30h-1.27zM886.15 782.64h1.27v1.30h-1.27zM889.95 782.64h1.27v1.30h-1.27zM891.22 782.64h1.27v1.30h-1.27zM895.03 782.64h1.27v1.30h-1.27zM897.57 782.64h2.54v1.30h-2.54zM901.38 782.64h2.54v1.30h-2.54zM903.92 782.64h1.27v1.30h-1.27zM905.19 782.64h2.54v1.30h-2.54zM877.26 783.89h1.27v1.30h-1.27zM879.80 783.89h1.27v1.30h-1.27zM881.07 783.89h1.27v1.30h-1.27zM891.22 783.89h2.54v1.30h-2.54zM893.76 783.89h1.27v1.30h-1.27zM895.03 783.89h3.81v1.30h-3.81zM901.38 783.89h1.27v1.30h-1.27zM903.92 783.89h2.54v1.30h-2.54zM878.53 785.15h1.27v1.30h-1.27zM879.80 785.15h2.54v1.30h-2.54zM884.88 785.15h2.54v1.30h-2.54zM887.42 785.15h1.27v1.30h-1.27zM891.22 785.15h3.81v1.30h-3.81zM902.65 785.15h1.27v1.30h-1.27zM903.92 785.15h3.81v1.30h-3.81z" fill="#101010"/>
<rect x="867.73" y="745.63" width="7.62" height="7.53" fill="#f6f6f6" stroke="#101010" stroke-width="1.27"/><rect x="869.64" y="747.51" width="3.81" height="3.76" fill="#101010"/>
<rect x="900.75" y="745.63" width="7.62" height="7.53" fill="#f6f6f6" stroke="#101010" stroke-width="1.27"/><rect x="902.65" y="747.51" width="3.81" height="3.76" fill="#101010"/>
<rect x="867.73" y="778.25" width="7.62" height="7.53" fill="#f6f6f6" stroke="#101010" stroke-width="1.27"/><rect x="869.64" y="780.13" width="3.81" height="3.76" fill="#101010"/>
<rect x="883.4" y="760.8" width="9.6" height="9.8" rx="2" fill="#1b1a2a"/><circle cx="888.2" cy="765.7" r="3" fill="none" stroke="#8fb8d8" stroke-width="1"/><circle cx="888.2" cy="765.7" r="1.1" fill="#3a4a6a"/>
<text x="888" y="794.1" font-size="5.3" fill="#1c1c1c" font-weight="normal" text-anchor="middle" >Download APP</text>
<text x="887.8" y="798.9" font-size="3.7" fill="#1c1c1c" font-weight="normal" text-anchor="middle" >App name:LED LAMP</text>
<path d="M663 755.1 H793" fill="none" stroke="#000" stroke-width="1.4" />
<path d="M659.6 755.1 L668.6 751.7 L668.6 758.5Z" fill="#000"/>
<path d="M658.8 747.4 V762.8" fill="none" stroke="#000" stroke-width="1.6" />
<path d="M796.6 755.1 L787.6 751.7 L787.6 758.5Z" fill="#000"/>
<path d="M797.4 747.4 V762.8" fill="none" stroke="#000" stroke-width="1.6" />
<text transform="translate(676.30,744.8) scale(0.9410,1)" font-size="33.2" fill="#84420f" font-weight="normal" >16.53in</text>
<text transform="translate(687.55,817.2) scale(0.9225,1)" font-size="33.2" fill="#1a3fd0" font-weight="normal" >13in</text>
<text transform="translate(693.90,846.5) scale(1.1100,1)" font-size="19.3" fill="#0a0a0a" font-weight="bold" >Brake</text>
<path d="M348 772.7 H512" fill="none" stroke="#000" stroke-width="8" />
<path d="M509.5 768.5 Q509.5 766 512 766 L520 765.6 L535 762 Q560 760.6 600 761.6 L628.5 762 L647 766 L657 765.4 Q659.8 765.4 659.8 768 V778.4 Q659.8 780.8 657 780.8 L647 780.4 L628.5 784 Q590 785 535 784 L520 780.6 L512 780.6 Q509.5 780.6 509.5 778Z" fill="#141414"/>
<rect x="538" y="762.5" width="90" height="3" fill="#2c2c2c" opacity="0.8"/>
<path d="M542 762v22M546 762v22M550 762v22M612 762v22M616 762v22M620 762v22" stroke="#000" stroke-width="1"/>
<path d="M348 762.7 H455.8 A8 8 0 0 0 463.8 754.7 V642" fill="none" stroke="#000" stroke-width="6.6" />
<path d="M461.7 642.2 h4.1 l-0.4 -20 h-3.2Z" fill="#b9744c"/><path d="M462.7 622.5v19" stroke="#ecc4a8" stroke-width="1"/>
<path d="M348 754.6 H413.7 A8 8 0 0 0 421.7 746.6 V726" fill="none" stroke="#f01a1a" stroke-width="6.6" />
<path d="M421.7 663 V641.7" fill="none" stroke="#f01a1a" stroke-width="6.8" />
<path d="M419.6 642 h4.1 l-0.4 -20 h-3.2Z" fill="#b9744c"/><path d="M420.6 622.5v19" stroke="#ecc4a8" stroke-width="1"/>
<rect x="414" y="714" width="12.8" height="14.4" rx="1" fill="#111"/>
<rect x="415" y="661" width="12.8" height="15" rx="1.5" fill="#141414"/>
<path d="M388.6 681 Q388.4 679.6 390 679.4 L411 677.3 V712.4 L390 708.8 Q388.4 708.6 388.4 707Z" fill="#1a1a1a"/>
<rect x="410.6" y="674.4" width="19.4" height="41.2" rx="1.5" fill="#121212"/>
<path d="M393 682.5v24M397 682v25M401 681.5v26M405 681v27" stroke="#050505" stroke-width="1.4"/>
<rect x="418" y="676" width="2" height="38" fill="#222"/>
<path d="M416 668.5 C411 668 408.5 666 406.5 663.5 C404 659 402 652 397.5 651 C393 650.4 390.8 654 392.2 657.5 C394 661.5 399 664 402.5 667.5 C406 671 408 674.5 411.5 678" fill="none" stroke="#0e0e0e" stroke-width="3.4" />
<path d="M393 630.4h16M400.9 622.9v15" stroke="#e8121c" stroke-width="4.2" fill="none"/>
<rect x="474.8" y="628.4" width="16.1" height="3.5" fill="#000"/>
<text transform="translate(408.12,609.8) scale(0.9984,1)" font-size="21.3" fill="#000" font-weight="bold" >12-24V</text>
<text transform="translate(271.12,708.2) scale(0.9530,1)" font-size="33.2" fill="#e3151f" font-weight="normal" >22.05in</text>
<text transform="translate(478.92,708.2) scale(0.9530,1)" font-size="33.2" fill="#0a0a0a" font-weight="normal" >22.05in</text>
<path d="M27.8 1140 V783 A17 17 0 0 1 44.8 766 H232" fill="none" stroke="#000" stroke-width="9" />
<path d="M230 752.6 H257.5 V779.4 H230 Q228 779.4 228 777.4 V754.6 Q228 752.6 230 752.6Z" fill="#161616"/>
<rect x="233.5" y="752.6" width="1.8" height="26.8" fill="#000"/>
<rect x="240" y="752.6" width="1.8" height="26.8" fill="#000"/>
<rect x="246.5" y="752.6" width="1.8" height="26.8" fill="#000"/>
<rect x="253" y="752.6" width="1.8" height="26.8" fill="#000"/>
<path d="M256 753 C262 749 266 742.5 276 741.4 L338 740.8 L339 746.5 H346.5 Q348.6 746.5 348.6 749 V783 Q348.6 785 346.5 785 H339 L338 789.6 L276 789.4 C266 788.5 262 783 256 779Z" fill="#131313"/>
<rect x="284" y="746" width="42" height="38" fill="#0b0b0b"/>
<rect x="286" y="746" width="1.2" height="38" fill="#222"/>
<rect x="290" y="746" width="1.2" height="38" fill="#222"/>
<rect x="294" y="746" width="1.2" height="38" fill="#222"/>
<rect x="298" y="746" width="1.2" height="38" fill="#222"/>
<rect x="302" y="746" width="1.2" height="38" fill="#222"/>
<rect x="306" y="746" width="1.2" height="38" fill="#222"/>
<rect x="310" y="746" width="1.2" height="38" fill="#222"/>
<rect x="314" y="746" width="1.2" height="38" fill="#222"/>
<rect x="318" y="746" width="1.2" height="38" fill="#222"/>
<rect x="322" y="746" width="1.2" height="38" fill="#222"/>
<path d="M41 1131 V787.6 A8 8 0 0 1 49 779.6 H219" fill="none" stroke="#000" stroke-width="1.4" />
<path d="M223.2 779.6 L214.2 776.2 L214.2 783.0Z" fill="#000"/>
<path d="M223.8 771.8 V788.4" fill="none" stroke="#000" stroke-width="1.6" />
<path d="M41 1134.4 L37.6 1125.9 L44.4 1125.9Z" fill="#000"/>
<path d="M32.8 1134.8 H49" fill="none" stroke="#000" stroke-width="1.6" />
<text transform="translate(60.65,820.7) scale(0.9415,1)" font-size="33.2" fill="#84420f" font-weight="normal" >56.29in</text>
<path d="M362 789.5 H498" fill="none" stroke="#000" stroke-width="1.4" />
<path d="M358.6 789.5 L367.6 786.1 L367.6 792.9Z" fill="#000"/>
<path d="M357.9 781.8 V797.2" fill="none" stroke="#000" stroke-width="1.6" />
<path d="M501.2 789.5 L492.2 786.1 L492.2 792.9Z" fill="#000"/>
<path d="M501.9 781.8 V797.2" fill="none" stroke="#000" stroke-width="1.6" />
<text transform="translate(376.02,820.2) scale(0.9540,1)" font-size="33.2" fill="#84420f" font-weight="normal" >21.25in</text>
<rect x="18" y="1137.4" width="18.4" height="8" rx="3" fill="#15151a"/>
<rect x="2.4" y="1142.8" width="49.2" height="121.4" rx="9" fill="#15151b"/>
<rect x="12.6" y="1161" width="25" height="83.6" rx="2" fill="#1f1f26"/>
<circle cx="25.2" cy="1175" r="7.5" fill="#7a1010" opacity="0.5" filter="url(#b1)"/><circle cx="25.2" cy="1175" r="5.4" fill="#c81a1a"/><circle cx="25.2" cy="1174" r="2" fill="#e85a4a"/>
<circle cx="24.8" cy="1219.2" r="9" fill="#0c0c10"/><circle cx="24.8" cy="1219.2" r="5.6" fill="#1c1c22"/>
<use href="#screw" x="55.4" y="420.5"/>
<use href="#screw" x="142.6" y="420.5"/>
<use href="#screw" x="55.4" y="441.7"/>
<use href="#screw" x="142.6" y="441.7"/>
<use href="#screw" x="55.4" y="462.8"/>
<use href="#screw" x="142.6" y="462.8"/>
<use href="#screw" x="55.4" y="484.0"/>
<use href="#screw" x="142.6" y="484.0"/>
<use href="#screw" x="55.4" y="505.2"/>
<use href="#screw" x="142.6" y="505.2"/>
<use href="#screw" x="55.4" y="526.4"/>
<use href="#screw" x="142.6" y="526.4"/>
<use href="#screw" x="55.4" y="547.5"/>
<use href="#screw" x="142.6" y="547.5"/>
<use href="#screw" x="55.4" y="568.7"/>
<use href="#screw" x="142.6" y="568.7"/>
<use href="#screw" x="55.4" y="589.9"/>
<use href="#screw" x="142.6" y="589.9"/>
<use href="#screw" x="55.4" y="611.0"/>
<use href="#screw" x="142.6" y="611.0"/>
<path d="M290 419.5 H375.2 V431.0 H243.8 V442.1 H338" fill="none" stroke="#3c3c3c" stroke-width="2.2" />
<path d="M243 414.2 H251 L262 414.9 L276 416.7 L291.5 417.7 V421.3 L276 422.1 L262 424.1 L251 424.9 H243Z" fill="#1e1c1e"/>
<path d="M336.4 440.0 L360 439.8 L364 437.6 L366.5 435.5 L375.8 436.6 V447.6 L366.5 448.70000000000005 L364 446.6 L360 444.40000000000003 L336.4 444.20000000000005Z" fill="#1e1c1e"/>
<rect x="367" y="438.6" width="6.5" height="7" fill="#4a4848"/>
<path d="M290 452.5 H375.2 V464.0 H243.8 V475.1 H338" fill="none" stroke="#3c3c3c" stroke-width="2.2" />
<path d="M243 447.2 H251 L262 447.9 L276 449.7 L291.5 450.7 V454.3 L276 455.1 L262 457.1 L251 457.9 H243Z" fill="#1e1c1e"/>
<path d="M336.4 473.0 L360 472.8 L364 470.6 L366.5 468.5 L375.8 469.6 V480.6 L366.5 481.70000000000005 L364 479.6 L360 477.40000000000003 L336.4 477.20000000000005Z" fill="#1e1c1e"/>
<rect x="367" y="471.6" width="6.5" height="7" fill="#4a4848"/>
<path d="M290 486.4 H375.2 V497.9 H243.8 V509.0 H338" fill="none" stroke="#3c3c3c" stroke-width="2.2" />
<path d="M243 481.09999999999997 H251 L262 481.79999999999995 L276 483.59999999999997 L291.5 484.59999999999997 V488.2 L276 489.0 L262 491.0 L251 491.79999999999995 H243Z" fill="#1e1c1e"/>
<path d="M336.4 506.9 L360 506.7 L364 504.5 L366.5 502.4 L375.8 503.5 V514.5 L366.5 515.6 L364 513.5 L360 511.3 L336.4 511.1Z" fill="#1e1c1e"/>
<rect x="367" y="505.5" width="6.5" height="7" fill="#4a4848"/>
<path d="M290 519.5 H375.2 V531.0 H243.8 V542.1 H338" fill="none" stroke="#3c3c3c" stroke-width="2.2" />
<path d="M243 514.2 H251 L262 514.9 L276 516.7 L291.5 517.7 V521.3 L276 522.1 L262 524.1 L251 524.9 H243Z" fill="#1e1c1e"/>
<path d="M336.4 540.0 L360 539.8000000000001 L364 537.6 L366.5 535.5 L375.8 536.6 V547.6 L366.5 548.7 L364 546.6 L360 544.4 L336.4 544.2Z" fill="#1e1c1e"/>
<rect x="367" y="538.6" width="6.5" height="7" fill="#4a4848"/>
<path d="M290 558.2 H375.2 V569.7 H243.8 V580.8000000000001 H338" fill="none" stroke="#3c3c3c" stroke-width="2.2" />
<path d="M243 552.9000000000001 H251 L262 553.6 L276 555.4000000000001 L291.5 556.4000000000001 V560.0 L276 560.8000000000001 L262 562.8000000000001 L251 563.6 H243Z" fill="#1e1c1e"/>
<path d="M336.4 578.7 L360 578.5000000000001 L364 576.3000000000001 L366.5 574.2 L375.8 575.3000000000001 V586.3000000000001 L366.5 587.4000000000001 L364 585.3000000000001 L360 583.1 L336.4 582.9000000000001Z" fill="#1e1c1e"/>
<rect x="367" y="577.3000000000001" width="6.5" height="7" fill="#4a4848"/>
<path d="M290 591.5 H375.2 V603.0 H243.8 V614.1 H338" fill="none" stroke="#3c3c3c" stroke-width="2.2" />
<path d="M243 586.2 H251 L262 586.9 L276 588.7 L291.5 589.7 V593.3 L276 594.1 L262 596.1 L251 596.9 H243Z" fill="#1e1c1e"/>
<path d="M336.4 612.0 L360 611.8000000000001 L364 609.6 L366.5 607.5 L375.8 608.6 V619.6 L366.5 620.7 L364 618.6 L360 616.4 L336.4 616.2Z" fill="#1e1c1e"/>
<rect x="367" y="610.6" width="6.5" height="7" fill="#4a4848"/>
<path d="M561.3 416 L566 414.85 H699.5 V417.15 H566Z" fill="#0b0b0b"/>
<rect x="699.2" y="414.1" width="3.6" height="3.8" fill="#fff" stroke="#0b0b0b" stroke-width="1.1"/>
<path d="M561.3 424 L566 422.85 H699.5 V425.15 H566Z" fill="#0b0b0b"/>
<rect x="699.2" y="422.1" width="3.6" height="3.8" fill="#fff" stroke="#0b0b0b" stroke-width="1.1"/>
<path d="M561.3 432.1 L566 430.95000000000005 H699.5 V433.25 H566Z" fill="#0b0b0b"/>
<rect x="699.2" y="430.20000000000005" width="3.6" height="3.8" fill="#fff" stroke="#0b0b0b" stroke-width="1.1"/>
<path d="M561.3 440.3 L566 439.15000000000003 H699.5 V441.45 H566Z" fill="#0b0b0b"/>
<rect x="699.2" y="438.40000000000003" width="3.6" height="3.8" fill="#fff" stroke="#0b0b0b" stroke-width="1.1"/>
<path d="M561.3 446.6 L566 445.45000000000005 H699.5 V447.75 H566Z" fill="#0b0b0b"/>
<rect x="699.2" y="444.70000000000005" width="3.6" height="3.8" fill="#fff" stroke="#0b0b0b" stroke-width="1.1"/>
<path d="M561.3 454.8 L566 453.65000000000003 H699.5 V455.95 H566Z" fill="#0b0b0b"/>
<rect x="699.2" y="452.90000000000003" width="3.6" height="3.8" fill="#fff" stroke="#0b0b0b" stroke-width="1.1"/>
<path d="M561.3 462.9 L566 461.75 H699.5 V464.04999999999995 H566Z" fill="#0b0b0b"/>
<rect x="699.2" y="461.0" width="3.6" height="3.8" fill="#fff" stroke="#0b0b0b" stroke-width="1.1"/>
<path d="M561.3 471.1 L566 469.95000000000005 H699.5 V472.25 H566Z" fill="#0b0b0b"/>
<rect x="699.2" y="469.20000000000005" width="3.6" height="3.8" fill="#fff" stroke="#0b0b0b" stroke-width="1.1"/>
<path d="M561.3 477.7 L566 476.55 H699.5 V478.84999999999997 H566Z" fill="#0b0b0b"/>
<rect x="699.2" y="475.8" width="3.6" height="3.8" fill="#fff" stroke="#0b0b0b" stroke-width="1.1"/>
<path d="M561.3 485.9 L566 484.75 H699.5 V487.04999999999995 H566Z" fill="#0b0b0b"/>
<rect x="699.2" y="484.0" width="3.6" height="3.8" fill="#fff" stroke="#0b0b0b" stroke-width="1.1"/>
<path d="M561.3 494 L566 492.85 H699.5 V495.15 H566Z" fill="#0b0b0b"/>
<rect x="699.2" y="492.1" width="3.6" height="3.8" fill="#fff" stroke="#0b0b0b" stroke-width="1.1"/>
<path d="M561.3 502 L566 500.85 H699.5 V503.15 H566Z" fill="#0b0b0b"/>
<rect x="699.2" y="500.1" width="3.6" height="3.8" fill="#fff" stroke="#0b0b0b" stroke-width="1.1"/>
<path d="M561.3 510 L566 508.85 H699.5 V511.15 H566Z" fill="#0b0b0b"/>
<rect x="699.2" y="508.1" width="3.6" height="3.8" fill="#fff" stroke="#0b0b0b" stroke-width="1.1"/>
<path d="M561.3 518 L566 516.85 H699.5 V519.15 H566Z" fill="#0b0b0b"/>
<rect x="699.2" y="516.1" width="3.6" height="3.8" fill="#fff" stroke="#0b0b0b" stroke-width="1.1"/>
<path d="M561.3 526.2 L566 525.0500000000001 H699.5 V527.35 H566Z" fill="#0b0b0b"/>
<rect x="699.2" y="524.3000000000001" width="3.6" height="3.8" fill="#fff" stroke="#0b0b0b" stroke-width="1.1"/>
<path d="M561.3 534.3 L566 533.15 H699.5 V535.4499999999999 H566Z" fill="#0b0b0b"/>
<rect x="699.2" y="532.4" width="3.6" height="3.8" fill="#fff" stroke="#0b0b0b" stroke-width="1.1"/>
<path d="M561.3 542.1 L566 540.95 H699.5 V543.25 H566Z" fill="#0b0b0b"/>
<rect x="699.2" y="540.2" width="3.6" height="3.8" fill="#fff" stroke="#0b0b0b" stroke-width="1.1"/>
<path d="M561.3 550 L566 548.85 H699.5 V551.15 H566Z" fill="#0b0b0b"/>
<rect x="699.2" y="548.1" width="3.6" height="3.8" fill="#fff" stroke="#0b0b0b" stroke-width="1.1"/>
<path d="M561.3 558.1 L566 556.95 H699.5 V559.25 H566Z" fill="#0b0b0b"/>
<rect x="699.2" y="556.2" width="3.6" height="3.8" fill="#fff" stroke="#0b0b0b" stroke-width="1.1"/>
<path d="M561.3 566.2 L566 565.0500000000001 H699.5 V567.35 H566Z" fill="#0b0b0b"/>
<rect x="699.2" y="564.3000000000001" width="3.6" height="3.8" fill="#fff" stroke="#0b0b0b" stroke-width="1.1"/>
<path d="M561.3 574 L566 572.85 H699.5 V575.15 H566Z" fill="#0b0b0b"/>
<rect x="699.2" y="572.1" width="3.6" height="3.8" fill="#fff" stroke="#0b0b0b" stroke-width="1.1"/>
<path d="M561.3 582 L566 580.85 H699.5 V583.15 H566Z" fill="#0b0b0b"/>
<rect x="699.2" y="580.1" width="3.6" height="3.8" fill="#fff" stroke="#0b0b0b" stroke-width="1.1"/>
<path d="M561.3 590 L566 588.85 H699.5 V591.15 H566Z" fill="#0b0b0b"/>
<rect x="699.2" y="588.1" width="3.6" height="3.8" fill="#fff" stroke="#0b0b0b" stroke-width="1.1"/>
<path d="M561.3 598.1 L566 596.95 H699.5 V599.25 H566Z" fill="#0b0b0b"/>
<rect x="699.2" y="596.2" width="3.6" height="3.8" fill="#fff" stroke="#0b0b0b" stroke-width="1.1"/>
<path d="M561.3 605.3 L566 604.15 H699.5 V606.4499999999999 H566Z" fill="#0b0b0b"/>
<rect x="699.2" y="603.4" width="3.6" height="3.8" fill="#fff" stroke="#0b0b0b" stroke-width="1.1"/>
<path d="M561.3 613.4 L566 612.25 H699.5 V614.55 H566Z" fill="#0b0b0b"/>
<rect x="699.2" y="611.5" width="3.6" height="3.8" fill="#fff" stroke="#0b0b0b" stroke-width="1.1"/>
<path d="M133.6 621.6 C136.1 627.6 139.6 631.9 147.6 635.5 L132.6 638.9 Z" fill="#97500f"/>
<rect x="114" y="634.9" width="74.19999999999999" height="37.89999999999998" rx="18.94999999999999" fill="#97500f"/>
<text transform="translate(131.07,668.3) scale(0.9258,1)" font-size="39.5" fill="#fffaf2" font-weight="normal" stroke="#fffaf2" stroke-width="0.5">20</text>
<path d="M290.7 621.6 C293.2 627.6 296.7 631.9 304.7 635.5 L289.7 638.9 Z" fill="#97500f"/>
<rect x="271.2" y="634.9" width="73.5" height="37.89999999999998" rx="18.94999999999999" fill="#97500f"/>
<text transform="translate(296.92,668.3) scale(0.9521,1)" font-size="39.5" fill="#fffaf2" font-weight="normal" stroke="#fffaf2" stroke-width="0.5">6</text>
<path d="M626.6 616.3 C629.1 622.3 632.6 627.4 640.6 631.0 L625.6 634.4 Z" fill="#97500f"/>
<rect x="606.0" y="630.4" width="73.70000000000005" height="37.60000000000002" rx="18.80000000000001" fill="#97500f"/>
<text transform="translate(620.49,663.0) scale(0.9446,1)" font-size="38.3" fill="#fffaf2" font-weight="normal" stroke="#fffaf2" stroke-width="0.5">26</text>

<g>
 <path d="M755.8 540 V506 C755.8 490 766 483.2 789 483.2 C812 483.2 822.4 490 822.4 506 V545 L820.6 590 C818 603 808 609.2 789 609.2 C770 609.2 760 603 757.4 590 L755.8 545Z" fill="#8b8785"/>
 <path d="M757.4 572 C760 596 772 600.5 789 600.5 C806 600.5 818 596 820.6 572 V590 C818 603 808 609.2 789 609.2 C770 609.2 760 603 757.4 590Z" fill="#7e7a78"/>
 <path d="M755.8 545 V506 C755.8 490 766 483.2 789 483.2 C812 483.2 822.4 490 822.4 506 V545Z" fill="#19191b"/>
 <path d="M757 506 V544" stroke="#b9bcc2" stroke-width="1.6"/><path d="M821.3 506 V544" stroke="#b9bcc2" stroke-width="1.6"/>
 <path d="M763.9 542 V504 C763.9 494 772 490.2 789.5 490.2 C807 490.2 815.6 494 815.6 504 V542Z" fill="#c9ced7"/>
 <path d="M766 520 C780 515 800 515 813.6 520 V504 C813 496 806 492.2 789.5 492.2 C773 492.2 766.5 496 766 504Z" fill="#dde1e8" opacity="0.7"/>
 <circle cx="777.2" cy="504" r="10" fill="#e4e7ec"/><circle cx="777.2" cy="504" r="8.4" fill="#9c9ea3"/>
 <circle cx="801.3" cy="504" r="10" fill="#e4e7ec"/><circle cx="801.3" cy="504" r="8.4" fill="#97999e"/>
 <circle cx="773.4" cy="527.3" r="7" fill="#e4e7ec"/><circle cx="773.4" cy="527.3" r="5.6" fill="#a4a6ab"/>
 <circle cx="804.9" cy="527.3" r="7" fill="#e4e7ec"/><circle cx="804.9" cy="527.3" r="5.6" fill="#a4a6ab"/>
 <text x="777.2" y="508.6" font-size="13" font-weight="bold" fill="#bfc2c8" text-anchor="middle">A</text>
 <text x="801.4" y="508.6" font-size="13" font-weight="bold" fill="#bfc2c8" text-anchor="middle">B</text>
 <text x="773.4" y="530.6" font-size="9" font-weight="bold" fill="#c6c9cf" text-anchor="middle">C</text>
 <text x="804.9" y="530.6" font-size="9" font-weight="bold" fill="#c6c9cf" text-anchor="middle">D</text>
 <circle cx="789.4" cy="496.6" r="0.9" fill="#2a3a9a"/>
 <path d="M757 546 C770 537 808 537 820.8 546 V575 C818 590 806 593.5 789 593.5 C772 593.5 760 590 757 575Z" fill="#2a2a2e"/>
 <circle cx="788.8" cy="560.5" r="16.5" fill="#303035"/>
 <g fill="#141416"><circle cx="788.6" cy="550.5" r="1.1"/><circle cx="781" cy="555.5" r="1.1"/><circle cx="796.4" cy="555.5" r="1.1"/><circle cx="788.8" cy="560.6" r="1.1"/><circle cx="774" cy="560.6" r="1.1"/><circle cx="803" cy="560.6" r="1.1"/><circle cx="781" cy="566.6" r="1.1"/><circle cx="796.4" cy="566.6" r="1.1"/><circle cx="788.6" cy="571.4" r="1.1"/></g>
 <path d="M764 575 C771 575 778 582 780.6 589 C773 589 765 584 764 575Z" fill="#f0f1f3"/>
 <path d="M813.4 575 C806.4 575 799.4 582 796.8 589 C804.4 589 812.4 584 813.4 575Z" fill="#f0f1f3"/>
 <rect x="779" y="601" width="17.2" height="5.8" rx="2.6" fill="#fbfbfb" stroke="#6c6967" stroke-width="0.8"/>
</g>

</g>
</svg>
</body></html>
